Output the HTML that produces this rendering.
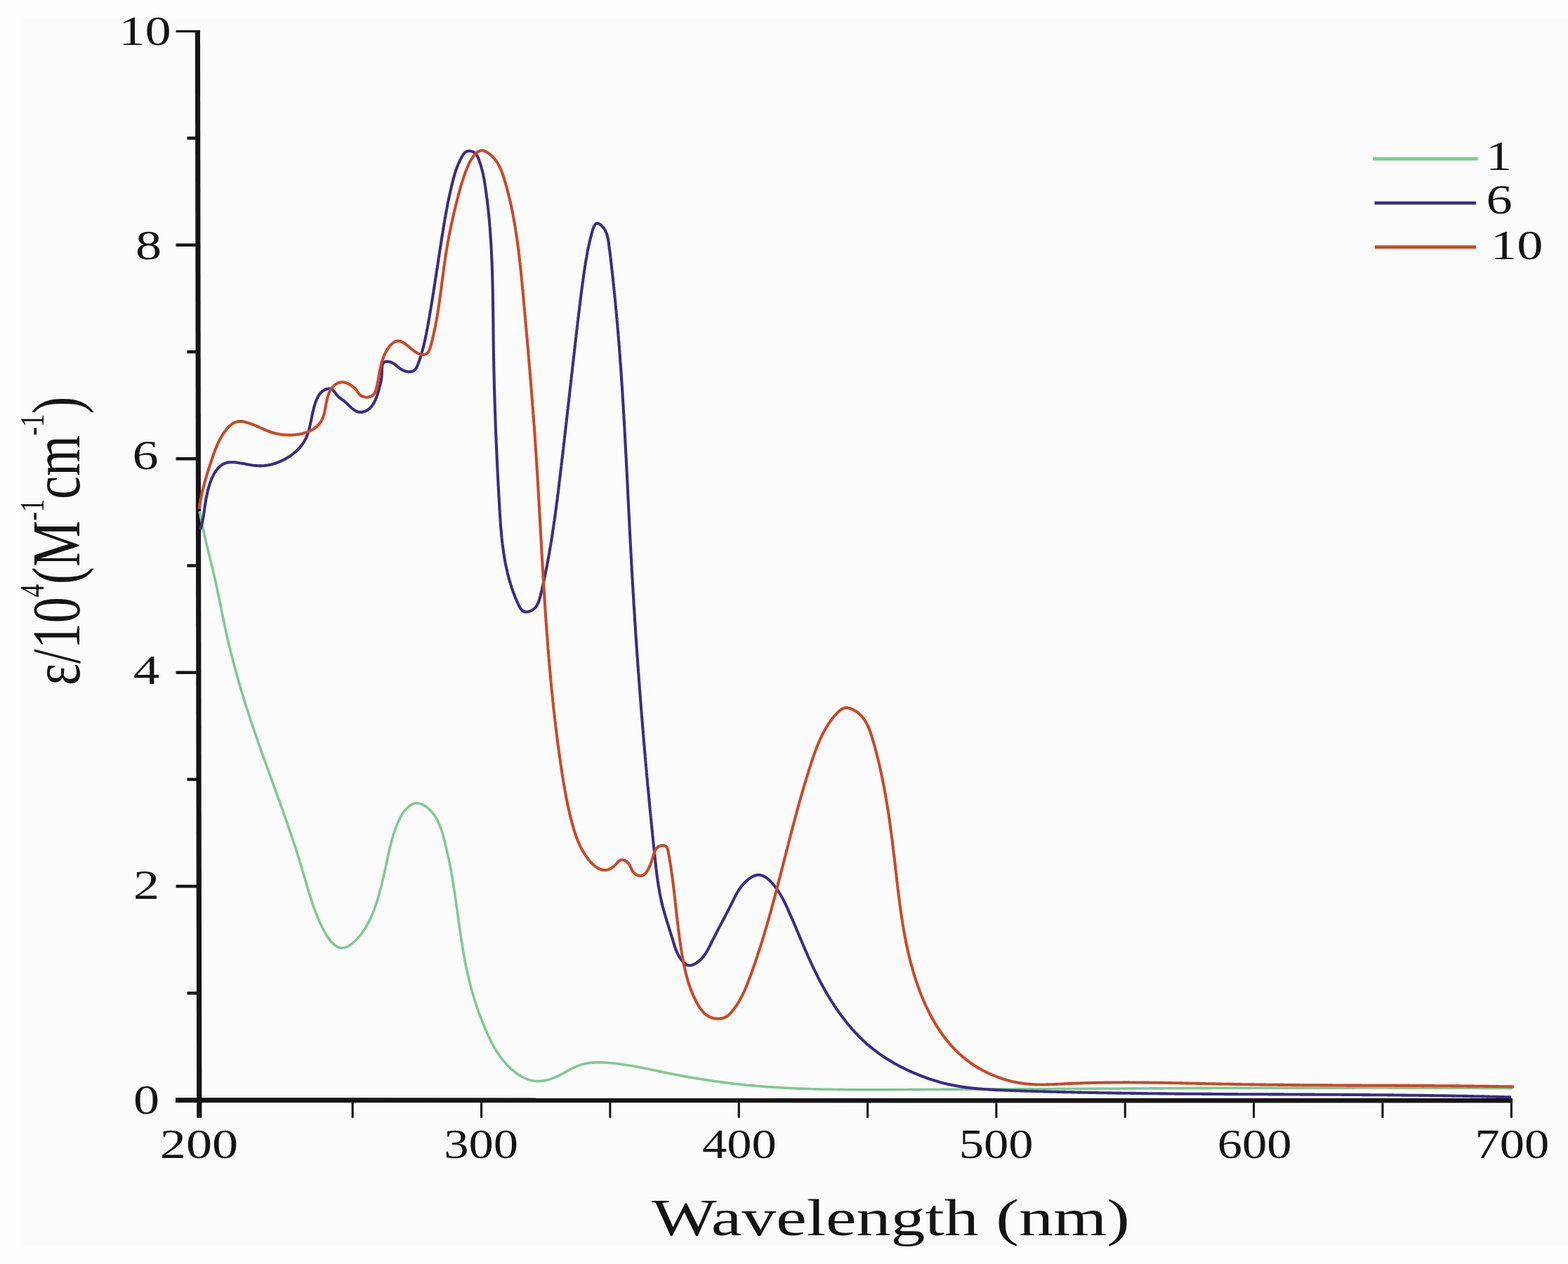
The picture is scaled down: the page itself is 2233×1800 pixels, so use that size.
<!DOCTYPE html>
<html><head><meta charset="utf-8"><title>UV-Vis spectra</title>
<style>
html,body{margin:0;padding:0;background:#fefefe;}
body{width:2233px;height:1800px;overflow:hidden;}
svg{display:block;}
text{font-family:"Liberation Serif","Times New Roman",serif;fill:#141414;}
</style></head><body>
<svg xmlns="http://www.w3.org/2000/svg" width="2233" height="1800" viewBox="0 0 2233 1800">
<rect width="2233" height="1800" fill="#fefefe"/>
<rect x="29" y="24" width="2204" height="1751" fill="#fcfcfc"/>
<polygon points="277.9,43 285,43 287.4,1591.8 280.2,1591.8" fill="#151515"/>
<polygon points="250,1563.3 2154,1563.6 2154,1570.6 250,1570.2" fill="#151515"/>
<rect x="266.5" y="1412.1" width="16.5" height="4.4" fill="#151515"/>
<rect x="250.5" y="1259.9" width="32.5" height="4.4" fill="#151515"/>
<rect x="266.5" y="1107.7" width="16.5" height="4.4" fill="#151515"/>
<rect x="250.5" y="955.5" width="32.5" height="4.4" fill="#151515"/>
<rect x="266.5" y="803.3" width="16.5" height="4.4" fill="#151515"/>
<rect x="250.5" y="651.1" width="32.5" height="4.4" fill="#151515"/>
<rect x="266.5" y="498.9" width="16.5" height="4.4" fill="#151515"/>
<rect x="250.5" y="346.7" width="32.5" height="4.4" fill="#151515"/>
<rect x="266.5" y="194.5" width="16.5" height="4.4" fill="#151515"/>
<rect x="250.5" y="43" width="32.5" height="3.2" fill="#151515"/>
<rect x="500.6" y="1566" width="3.1" height="25.8" fill="#151515"/>
<rect x="684.0" y="1566" width="3.1" height="25.8" fill="#151515"/>
<rect x="867.3" y="1566" width="3.1" height="25.8" fill="#151515"/>
<rect x="1050.7" y="1566" width="3.1" height="25.8" fill="#151515"/>
<rect x="1234.0" y="1566" width="3.1" height="25.8" fill="#151515"/>
<rect x="1417.3" y="1566" width="3.1" height="25.8" fill="#151515"/>
<rect x="1600.7" y="1566" width="3.1" height="25.8" fill="#151515"/>
<rect x="1784.0" y="1566" width="3.1" height="25.8" fill="#151515"/>
<rect x="1967.4" y="1566" width="3.1" height="25.8" fill="#151515"/>
<rect x="2150.8" y="1566" width="3.1" height="25.8" fill="#151515"/>
<path d="M284.3,728.0 L284.6,729.5 L284.8,731.0 L285.1,732.5 L285.4,734.0 L285.6,735.4 L285.9,736.9 L286.2,738.4 L286.5,739.8 L286.8,741.3 L287.1,742.8 L287.4,744.3 L287.7,745.7 L288.0,747.2 L288.3,748.7 L288.6,750.1 L288.9,751.6 L289.2,753.1 L289.5,754.5 L289.8,756.0 L290.2,757.5 L290.5,758.9 L290.8,760.4 L291.1,761.8 L291.5,763.3 L291.8,764.8 L292.2,766.2 L292.5,767.7 L292.8,769.1 L293.2,770.6 L293.5,772.1 L293.9,773.5 L294.2,775.0 L294.6,776.4 L294.9,777.9 L295.3,779.3 L295.6,780.8 L296.0,782.2 L296.3,783.7 L296.7,785.2 L297.0,786.6 L297.4,788.1 L297.7,789.5 L298.1,791.0 L298.4,792.4 L298.8,793.9 L299.2,795.3 L299.5,796.8 L299.9,798.3 L300.2,799.7 L300.6,801.2 L300.9,802.6 L301.3,804.1 L301.6,805.5 L302.0,807.0 L302.3,808.4 L302.7,809.9 L303.0,811.4 L303.4,812.8 L303.7,814.3 L304.1,815.7 L304.4,817.2 L304.8,818.7 L305.1,820.1 L305.4,821.6 L305.8,823.0 L306.1,824.5 L306.4,826.0 L306.8,827.4 L307.1,828.9 L307.4,830.3 L307.7,831.8 L308.0,833.3 L308.4,834.7 L308.7,836.2 L309.0,837.7 L309.3,839.1 L309.6,840.6 L309.9,842.1 L310.2,843.5 L310.5,845.0 L310.8,846.5 L311.2,848.0 L311.5,849.4 L311.8,850.9 L312.1,852.4 L312.4,853.8 L312.7,855.3 L313.0,856.8 L313.3,858.3 L313.6,859.7 L313.9,861.2 L314.2,862.7 L314.5,864.1 L314.8,865.6 L315.0,867.1 L315.3,868.6 L315.6,870.0 L315.9,871.5 L316.2,873.0 L316.5,874.4 L316.8,875.9 L317.1,877.4 L317.4,878.8 L317.7,880.3 L318.1,881.8 L318.4,883.3 L318.7,884.7 L319.0,886.2 L319.3,887.7 L319.6,889.1 L319.9,890.6 L320.2,892.1 L320.5,893.5 L320.8,895.0 L321.2,896.5 L321.5,897.9 L321.8,899.4 L322.1,900.9 L322.5,902.3 L322.8,903.8 L323.1,905.3 L323.4,906.7 L323.8,908.2 L324.1,909.6 L324.4,911.1 L324.8,912.6 L325.1,914.0 L325.5,915.5 L325.8,916.9 L326.2,918.4 L326.5,919.9 L326.9,921.3 L327.2,922.8 L327.6,924.2 L327.9,925.7 L328.3,927.1 L328.7,928.6 L329.0,930.0 L329.4,931.5 L329.8,932.9 L330.1,934.4 L330.5,935.8 L330.9,937.3 L331.2,938.7 L331.6,940.2 L332.0,941.6 L332.4,943.1 L332.8,944.5 L333.1,946.0 L333.5,947.4 L333.9,948.9 L334.3,950.3 L334.7,951.8 L335.1,953.2 L335.5,954.7 L335.9,956.1 L336.3,957.6 L336.7,959.0 L337.1,960.4 L337.5,961.9 L337.9,963.3 L338.3,964.8 L338.7,966.2 L339.1,967.7 L339.5,969.1 L339.9,970.5 L340.3,972.0 L340.8,973.4 L341.2,974.9 L341.6,976.3 L342.0,977.7 L342.4,979.2 L342.9,980.6 L343.3,982.0 L343.7,983.5 L344.2,984.9 L344.6,986.3 L345.0,987.8 L345.5,989.2 L345.9,990.6 L346.3,992.1 L346.8,993.5 L347.2,994.9 L347.6,996.4 L348.1,997.8 L348.5,999.2 L349.0,1000.7 L349.4,1002.1 L349.9,1003.5 L350.3,1005.0 L350.8,1006.4 L351.2,1007.8 L351.7,1009.2 L352.1,1010.7 L352.6,1012.1 L353.1,1013.5 L353.5,1015.0 L354.0,1016.4 L354.5,1017.8 L354.9,1019.2 L355.4,1020.7 L355.9,1022.1 L356.3,1023.5 L356.8,1024.9 L357.3,1026.3 L357.7,1027.8 L358.2,1029.2 L358.7,1030.6 L359.2,1032.0 L359.6,1033.5 L360.1,1034.9 L360.6,1036.3 L361.1,1037.7 L361.6,1039.1 L362.1,1040.6 L362.5,1042.0 L363.0,1043.4 L363.5,1044.8 L364.0,1046.2 L364.5,1047.7 L365.0,1049.1 L365.5,1050.5 L366.0,1051.9 L366.5,1053.3 L366.9,1054.7 L367.4,1056.2 L367.9,1057.6 L368.4,1059.0 L368.9,1060.4 L369.4,1061.8 L369.9,1063.2 L370.4,1064.7 L370.9,1066.1 L371.4,1067.5 L371.9,1068.9 L372.4,1070.3 L372.9,1071.7 L373.4,1073.1 L373.9,1074.6 L374.4,1076.0 L374.9,1077.4 L375.4,1078.8 L376.0,1080.2 L376.5,1081.6 L377.0,1083.0 L377.5,1084.4 L378.0,1085.9 L378.5,1087.3 L379.0,1088.7 L379.5,1090.1 L380.0,1091.5 L380.5,1092.9 L381.0,1094.3 L381.5,1095.7 L382.1,1097.2 L382.6,1098.6 L383.1,1100.0 L383.6,1101.4 L384.1,1102.8 L384.6,1104.2 L385.1,1105.6 L385.6,1107.0 L386.1,1108.5 L386.6,1109.9 L387.2,1111.3 L387.7,1112.7 L388.2,1114.1 L388.7,1115.5 L389.2,1116.9 L389.7,1118.3 L390.2,1119.7 L390.7,1121.2 L391.2,1122.6 L391.8,1124.0 L392.3,1125.4 L392.8,1126.8 L393.3,1128.2 L393.8,1129.6 L394.3,1131.0 L394.8,1132.4 L395.3,1133.9 L395.8,1135.3 L396.3,1136.7 L396.8,1138.1 L397.4,1139.5 L397.9,1140.9 L398.4,1142.3 L398.9,1143.7 L399.4,1145.2 L399.9,1146.6 L400.4,1148.0 L400.9,1149.4 L401.4,1150.8 L401.9,1152.2 L402.4,1153.6 L402.9,1155.0 L403.4,1156.5 L403.9,1157.9 L404.4,1159.3 L404.9,1160.7 L405.4,1162.1 L405.9,1163.5 L406.4,1164.9 L406.9,1166.4 L407.4,1167.8 L407.9,1169.2 L408.4,1170.6 L408.9,1172.0 L409.4,1173.4 L409.8,1174.8 L410.3,1176.3 L410.8,1177.7 L411.3,1179.1 L411.8,1180.5 L412.3,1181.9 L412.8,1183.4 L413.2,1184.8 L413.7,1186.2 L414.2,1187.6 L414.7,1189.0 L415.2,1190.4 L415.6,1191.9 L416.1,1193.3 L416.6,1194.7 L417.1,1196.1 L417.5,1197.5 L418.0,1199.0 L418.5,1200.4 L419.0,1201.8 L419.4,1203.2 L419.9,1204.6 L420.4,1206.1 L420.8,1207.5 L421.3,1208.9 L421.7,1210.3 L422.2,1211.8 L422.7,1213.2 L423.1,1214.6 L423.6,1216.0 L424.0,1217.5 L424.5,1218.9 L424.9,1220.3 L425.4,1221.7 L425.8,1223.2 L426.3,1224.6 L426.7,1226.0 L427.1,1227.5 L427.6,1228.9 L428.0,1230.3 L428.5,1231.7 L428.9,1233.2 L429.3,1234.6 L429.8,1236.0 L430.2,1237.5 L430.6,1238.9 L431.0,1240.3 L431.5,1241.8 L431.9,1243.2 L432.3,1244.6 L432.7,1246.1 L433.1,1247.5 L433.6,1248.9 L434.0,1250.4 L434.4,1251.8 L434.8,1253.2 L435.2,1254.7 L435.6,1256.1 L436.1,1257.6 L436.5,1259.0 L436.9,1260.4 L437.3,1261.9 L437.7,1263.3 L438.1,1264.7 L438.6,1266.2 L439.0,1267.6 L439.4,1269.0 L439.9,1270.5 L440.3,1271.9 L440.7,1273.3 L441.2,1274.7 L441.6,1276.2 L442.1,1277.6 L442.5,1279.0 L443.0,1280.5 L443.4,1281.9 L443.9,1283.3 L444.4,1284.7 L444.8,1286.1 L445.3,1287.6 L445.8,1289.0 L446.3,1290.4 L446.8,1291.8 L447.3,1293.2 L447.8,1294.6 L448.3,1296.0 L448.9,1297.4 L449.4,1298.9 L449.9,1300.3 L450.5,1301.7 L451.1,1303.1 L451.6,1304.5 L452.2,1305.8 L452.8,1307.2 L453.4,1308.6 L454.0,1310.0 L454.6,1311.4 L455.2,1312.8 L455.8,1314.2 L456.5,1315.5 L457.1,1316.9 L457.8,1318.3 L458.5,1319.7 L459.1,1321.0 L459.8,1322.4 L460.5,1323.8 L461.3,1325.1 L462.0,1326.5 L462.7,1327.8 L463.5,1329.2 L464.3,1330.5 L465.0,1331.8 L465.8,1333.1 L466.7,1334.4 L467.5,1335.7 L468.4,1336.9 L469.3,1338.1 L470.2,1339.3 L471.2,1340.5 L472.1,1341.6 L473.1,1342.6 L474.2,1343.6 L475.3,1344.6 L476.4,1345.5 L477.5,1346.3 L478.7,1347.1 L479.9,1347.8 L481.2,1348.5 L482.5,1349.0 L483.8,1349.5 L485.1,1349.8 L486.5,1350.0 L487.9,1350.0 L489.3,1349.8 L490.6,1349.6 L492.0,1349.1 L493.4,1348.6 L494.8,1348.0 L496.1,1347.2 L497.5,1346.4 L498.8,1345.5 L500.1,1344.6 L501.4,1343.6 L502.7,1342.5 L503.9,1341.5 L505.1,1340.4 L506.2,1339.3 L507.3,1338.2 L508.4,1337.1 L509.5,1336.0 L510.5,1334.9 L511.4,1333.7 L512.4,1332.6 L513.3,1331.5 L514.2,1330.3 L515.1,1329.2 L516.0,1328.0 L516.8,1326.8 L517.6,1325.6 L518.5,1324.4 L519.3,1323.1 L520.0,1321.9 L520.8,1320.6 L521.6,1319.4 L522.3,1318.1 L523.0,1316.8 L523.8,1315.5 L524.5,1314.2 L525.2,1312.9 L525.8,1311.5 L526.5,1310.2 L527.1,1308.8 L527.8,1307.5 L528.4,1306.1 L529.0,1304.7 L529.6,1303.4 L530.2,1302.0 L530.8,1300.6 L531.3,1299.2 L531.9,1297.8 L532.4,1296.4 L533.0,1295.0 L533.5,1293.5 L534.0,1292.1 L534.5,1290.7 L535.0,1289.2 L535.5,1287.8 L536.0,1286.4 L536.5,1284.9 L536.9,1283.5 L537.4,1282.1 L537.8,1280.6 L538.3,1279.2 L538.7,1277.7 L539.1,1276.3 L539.5,1274.8 L539.9,1273.4 L540.3,1271.9 L540.7,1270.5 L541.1,1269.0 L541.5,1267.6 L541.9,1266.1 L542.3,1264.7 L542.6,1263.2 L543.0,1261.8 L543.4,1260.3 L543.7,1258.9 L544.1,1257.4 L544.4,1256.0 L544.7,1254.5 L545.1,1253.1 L545.4,1251.6 L545.8,1250.1 L546.1,1248.7 L546.4,1247.2 L546.7,1245.8 L547.1,1244.3 L547.4,1242.9 L547.7,1241.4 L548.0,1239.9 L548.3,1238.5 L548.7,1237.0 L549.0,1235.6 L549.3,1234.1 L549.6,1232.6 L549.9,1231.2 L550.2,1229.7 L550.5,1228.2 L550.9,1226.8 L551.2,1225.3 L551.5,1223.9 L551.8,1222.4 L552.1,1220.9 L552.5,1219.5 L552.8,1218.0 L553.1,1216.5 L553.4,1215.1 L553.8,1213.6 L554.1,1212.1 L554.4,1210.7 L554.8,1209.2 L555.1,1207.7 L555.5,1206.3 L555.9,1204.8 L556.2,1203.3 L556.6,1201.9 L557.0,1200.4 L557.3,1199.0 L557.7,1197.5 L558.1,1196.1 L558.5,1194.6 L559.0,1193.2 L559.4,1191.7 L559.8,1190.3 L560.2,1188.9 L560.7,1187.4 L561.2,1186.0 L561.6,1184.6 L562.1,1183.2 L562.6,1181.8 L563.1,1180.4 L563.6,1179.0 L564.1,1177.6 L564.7,1176.2 L565.2,1174.8 L565.8,1173.4 L566.4,1172.0 L566.9,1170.7 L567.6,1169.3 L568.2,1167.9 L568.8,1166.6 L569.5,1165.3 L570.2,1163.9 L570.9,1162.6 L571.6,1161.3 L572.4,1160.0 L573.2,1158.8 L574.0,1157.5 L574.9,1156.3 L575.9,1155.1 L576.8,1153.9 L577.9,1152.8 L578.9,1151.6 L580.0,1150.5 L581.2,1149.4 L582.4,1148.4 L583.7,1147.4 L585.0,1146.5 L586.4,1145.7 L587.7,1145.0 L589.1,1144.4 L590.5,1144.1 L591.9,1143.8 L593.3,1143.7 L594.7,1143.8 L596.1,1144.0 L597.5,1144.2 L598.9,1144.6 L600.2,1145.1 L601.6,1145.7 L602.9,1146.4 L604.2,1147.1 L605.5,1147.9 L606.7,1148.7 L608.0,1149.7 L609.2,1150.6 L610.3,1151.6 L611.4,1152.6 L612.5,1153.6 L613.5,1154.7 L614.5,1155.8 L615.5,1156.9 L616.4,1158.1 L617.3,1159.2 L618.2,1160.4 L619.0,1161.6 L619.8,1162.9 L620.6,1164.1 L621.4,1165.4 L622.1,1166.7 L622.8,1168.0 L623.5,1169.3 L624.1,1170.7 L624.7,1172.0 L625.3,1173.4 L625.9,1174.8 L626.5,1176.2 L627.0,1177.6 L627.5,1179.0 L628.1,1180.4 L628.6,1181.9 L629.0,1183.3 L629.5,1184.8 L629.9,1186.2 L630.4,1187.7 L630.8,1189.2 L631.2,1190.6 L631.6,1192.1 L632.0,1193.6 L632.4,1195.1 L632.8,1196.5 L633.2,1198.0 L633.6,1199.5 L633.9,1201.0 L634.3,1202.5 L634.7,1203.9 L635.0,1205.4 L635.4,1206.9 L635.7,1208.3 L636.1,1209.8 L636.4,1211.3 L636.7,1212.8 L637.1,1214.2 L637.4,1215.7 L637.7,1217.2 L638.0,1218.6 L638.4,1220.1 L638.7,1221.6 L639.0,1223.0 L639.3,1224.5 L639.6,1226.0 L639.9,1227.4 L640.2,1228.9 L640.5,1230.4 L640.8,1231.8 L641.0,1233.3 L641.3,1234.8 L641.6,1236.2 L641.9,1237.7 L642.1,1239.2 L642.4,1240.6 L642.7,1242.1 L642.9,1243.6 L643.2,1245.0 L643.5,1246.5 L643.7,1248.0 L644.0,1249.4 L644.2,1250.9 L644.5,1252.4 L644.7,1253.8 L645.0,1255.3 L645.2,1256.8 L645.4,1258.3 L645.7,1259.7 L645.9,1261.2 L646.1,1262.7 L646.4,1264.2 L646.6,1265.6 L646.8,1267.1 L647.0,1268.6 L647.3,1270.1 L647.5,1271.5 L647.7,1273.0 L647.9,1274.5 L648.1,1276.0 L648.3,1277.5 L648.6,1278.9 L648.8,1280.4 L649.0,1281.9 L649.2,1283.4 L649.4,1284.9 L649.6,1286.3 L649.8,1287.8 L650.0,1289.3 L650.2,1290.8 L650.4,1292.3 L650.7,1293.7 L650.9,1295.2 L651.1,1296.7 L651.3,1298.2 L651.5,1299.7 L651.7,1301.2 L651.9,1302.6 L652.1,1304.1 L652.3,1305.6 L652.5,1307.1 L652.7,1308.6 L652.9,1310.1 L653.1,1311.5 L653.3,1313.0 L653.5,1314.5 L653.8,1316.0 L654.0,1317.5 L654.2,1319.0 L654.4,1320.4 L654.6,1321.9 L654.8,1323.4 L655.0,1324.9 L655.2,1326.4 L655.5,1327.9 L655.7,1329.3 L655.9,1330.8 L656.1,1332.3 L656.3,1333.8 L656.6,1335.3 L656.8,1336.8 L657.0,1338.2 L657.2,1339.7 L657.5,1341.2 L657.7,1342.7 L657.9,1344.2 L658.2,1345.6 L658.4,1347.1 L658.7,1348.6 L658.9,1350.1 L659.2,1351.6 L659.4,1353.0 L659.7,1354.5 L659.9,1356.0 L660.2,1357.5 L660.4,1359.0 L660.7,1360.4 L661.0,1361.9 L661.2,1363.4 L661.5,1364.9 L661.8,1366.3 L662.1,1367.8 L662.3,1369.3 L662.6,1370.8 L662.9,1372.2 L663.2,1373.7 L663.5,1375.2 L663.8,1376.7 L664.1,1378.1 L664.4,1379.6 L664.7,1381.1 L665.0,1382.5 L665.4,1384.0 L665.7,1385.5 L666.0,1387.0 L666.4,1388.4 L666.7,1389.9 L667.0,1391.4 L667.4,1392.8 L667.7,1394.3 L668.1,1395.8 L668.4,1397.2 L668.8,1398.7 L669.2,1400.1 L669.6,1401.6 L669.9,1403.1 L670.3,1404.5 L670.7,1406.0 L671.1,1407.4 L671.5,1408.9 L671.9,1410.4 L672.3,1411.8 L672.7,1413.3 L673.2,1414.7 L673.6,1416.2 L674.0,1417.6 L674.4,1419.1 L674.9,1420.5 L675.3,1422.0 L675.8,1423.4 L676.2,1424.8 L676.7,1426.3 L677.2,1427.7 L677.6,1429.2 L678.1,1430.6 L678.6,1432.0 L679.1,1433.5 L679.5,1434.9 L680.0,1436.3 L680.5,1437.7 L681.0,1439.2 L681.5,1440.6 L682.0,1442.0 L682.5,1443.4 L683.1,1444.8 L683.6,1446.2 L684.1,1447.6 L684.6,1449.0 L685.2,1450.4 L685.7,1451.8 L686.3,1453.2 L686.8,1454.6 L687.3,1456.0 L687.9,1457.4 L688.5,1458.8 L689.0,1460.1 L689.6,1461.5 L690.2,1462.9 L690.7,1464.3 L691.3,1465.6 L691.9,1467.0 L692.5,1468.3 L693.1,1469.7 L693.6,1471.0 L694.2,1472.4 L694.8,1473.7 L695.5,1475.1 L696.1,1476.4 L696.7,1477.7 L697.3,1479.0 L698.0,1480.4 L698.6,1481.7 L699.3,1483.0 L699.9,1484.3 L700.6,1485.6 L701.3,1486.9 L702.0,1488.2 L702.7,1489.5 L703.4,1490.7 L704.2,1492.0 L704.9,1493.3 L705.7,1494.5 L706.4,1495.8 L707.2,1497.1 L708.0,1498.3 L708.8,1499.5 L709.7,1500.8 L710.5,1502.0 L711.4,1503.2 L712.2,1504.5 L713.1,1505.7 L714.0,1506.9 L715.0,1508.1 L715.9,1509.3 L716.9,1510.4 L717.9,1511.6 L718.9,1512.8 L719.9,1514.0 L720.9,1515.1 L722.0,1516.3 L723.1,1517.4 L724.2,1518.5 L725.3,1519.6 L726.4,1520.7 L727.6,1521.8 L728.8,1522.9 L730.0,1523.9 L731.2,1524.9 L732.4,1525.9 L733.6,1526.9 L734.8,1527.8 L736.1,1528.8 L737.4,1529.7 L738.7,1530.5 L739.9,1531.3 L741.2,1532.1 L742.6,1532.9 L743.9,1533.6 L745.2,1534.3 L746.6,1535.0 L747.9,1535.6 L749.3,1536.2 L750.7,1536.7 L752.0,1537.2 L753.4,1537.7 L754.8,1538.1 L756.2,1538.4 L757.6,1538.7 L759.0,1539.0 L760.5,1539.2 L761.9,1539.4 L763.3,1539.5 L764.7,1539.6 L766.1,1539.6 L767.6,1539.6 L769.0,1539.5 L770.4,1539.4 L771.9,1539.3 L773.3,1539.1 L774.7,1538.9 L776.2,1538.6 L777.6,1538.4 L779.0,1538.0 L780.4,1537.7 L781.9,1537.3 L783.3,1536.9 L784.7,1536.4 L786.1,1535.9 L787.5,1535.4 L788.9,1534.9 L790.3,1534.3 L791.6,1533.7 L793.0,1533.1 L794.4,1532.5 L795.7,1531.8 L797.1,1531.1 L798.4,1530.4 L799.8,1529.7 L801.1,1529.0 L802.5,1528.3 L803.8,1527.5 L805.1,1526.8 L806.5,1526.1 L807.8,1525.3 L809.1,1524.6 L810.5,1523.8 L811.8,1523.1 L813.1,1522.4 L814.5,1521.7 L815.8,1521.0 L817.2,1520.4 L818.5,1519.7 L819.9,1519.1 L821.3,1518.5 L822.7,1517.9 L824.0,1517.4 L825.4,1516.9 L826.9,1516.4 L828.3,1515.9 L829.7,1515.5 L831.1,1515.2 L832.6,1514.8 L834.0,1514.5 L835.5,1514.2 L837.0,1514.0 L838.4,1513.8 L839.9,1513.6 L841.4,1513.4 L842.9,1513.3 L844.4,1513.1 L845.9,1513.1 L847.4,1513.0 L848.9,1512.9 L850.4,1512.9 L852.0,1512.9 L853.5,1512.9 L855.0,1512.9 L856.5,1512.9 L858.0,1513.0 L859.6,1513.1 L861.1,1513.1 L862.6,1513.2 L864.1,1513.3 L865.6,1513.4 L867.1,1513.6 L868.7,1513.7 L870.2,1513.8 L871.7,1514.0 L873.2,1514.1 L874.7,1514.3 L876.2,1514.4 L877.7,1514.6 L879.2,1514.8 L880.7,1515.0 L882.1,1515.1 L883.6,1515.3 L885.1,1515.5 L886.6,1515.7 L888.1,1516.0 L889.6,1516.2 L891.0,1516.4 L892.5,1516.6 L894.0,1516.9 L895.5,1517.1 L896.9,1517.3 L898.4,1517.6 L899.9,1517.8 L901.4,1518.1 L902.8,1518.4 L904.3,1518.6 L905.8,1518.9 L907.2,1519.2 L908.7,1519.4 L910.1,1519.7 L911.6,1520.0 L913.1,1520.3 L914.5,1520.6 L916.0,1520.9 L917.5,1521.2 L918.9,1521.4 L920.4,1521.7 L921.8,1522.0 L923.3,1522.3 L924.7,1522.6 L926.2,1522.9 L927.7,1523.2 L929.1,1523.6 L930.6,1523.9 L932.0,1524.2 L933.5,1524.5 L934.9,1524.8 L936.4,1525.1 L937.9,1525.4 L939.3,1525.7 L940.8,1526.0 L942.2,1526.3 L943.7,1526.6 L945.2,1526.9 L946.6,1527.2 L948.1,1527.5 L949.6,1527.8 L951.0,1528.1 L952.5,1528.4 L953.9,1528.7 L955.4,1529.0 L956.9,1529.3 L958.3,1529.6 L959.8,1529.9 L961.3,1530.2 L962.8,1530.4 L964.2,1530.7 L965.7,1531.0 L967.2,1531.3 L968.6,1531.6 L970.1,1531.8 L971.6,1532.1 L973.1,1532.4 L974.5,1532.7 L976.0,1532.9 L977.5,1533.2 L979.0,1533.5 L980.5,1533.7 L981.9,1534.0 L983.4,1534.2 L984.9,1534.5 L986.4,1534.8 L987.9,1535.0 L989.3,1535.3 L990.8,1535.5 L992.3,1535.8 L993.8,1536.0 L995.3,1536.3 L996.8,1536.5 L998.2,1536.7 L999.7,1537.0 L1001.2,1537.2 L1002.7,1537.4 L1004.2,1537.7 L1005.7,1537.9 L1007.2,1538.1 L1008.7,1538.4 L1010.1,1538.6 L1011.6,1538.8 L1013.1,1539.0 L1014.6,1539.2 L1016.1,1539.5 L1017.6,1539.7 L1019.1,1539.9 L1020.6,1540.1 L1022.1,1540.3 L1023.6,1540.5 L1025.0,1540.7 L1026.5,1540.9 L1028.0,1541.1 L1029.5,1541.3 L1031.0,1541.5 L1032.5,1541.7 L1034.0,1541.9 L1035.5,1542.1 L1037.0,1542.3 L1038.5,1542.4 L1040.0,1542.6 L1041.5,1542.8 L1043.0,1543.0 L1044.4,1543.1 L1045.9,1543.3 L1047.4,1543.5 L1048.9,1543.7 L1050.4,1543.8 L1051.9,1544.0 L1053.4,1544.1 L1054.9,1544.3 L1056.4,1544.5 L1057.9,1544.6 L1059.4,1544.8 L1060.9,1544.9 L1062.4,1545.1 L1063.9,1545.2 L1065.4,1545.4 L1066.9,1545.5 L1068.3,1545.6 L1069.8,1545.8 L1071.3,1545.9 L1072.8,1546.0 L1074.3,1546.2 L1075.8,1546.3 L1077.3,1546.4 L1078.8,1546.6 L1080.3,1546.7 L1081.8,1546.8 L1083.3,1546.9 L1084.8,1547.0 L1086.3,1547.2 L1087.8,1547.3 L1089.3,1547.4 L1090.8,1547.5 L1092.3,1547.6 L1093.8,1547.7 L1095.3,1547.8 L1096.8,1547.9 L1098.2,1548.0 L1099.7,1548.1 L1101.2,1548.2 L1102.7,1548.3 L1104.2,1548.4 L1105.7,1548.5 L1107.2,1548.6 L1108.7,1548.7 L1110.2,1548.8 L1111.7,1548.9 L1113.2,1549.0 L1114.7,1549.0 L1116.2,1549.1 L1117.7,1549.2 L1119.2,1549.3 L1120.7,1549.4 L1122.2,1549.4 L1123.7,1549.5 L1125.2,1549.6 L1126.7,1549.6 L1128.2,1549.7 L1129.7,1549.8 L1131.2,1549.9 L1132.7,1549.9 L1134.2,1550.0 L1135.7,1550.0 L1137.2,1550.1 L1138.7,1550.2 L1140.2,1550.2 L1141.6,1550.3 L1143.1,1550.3 L1144.6,1550.4 L1146.1,1550.4 L1147.6,1550.5 L1149.1,1550.6 L1150.6,1550.6 L1152.1,1550.6 L1153.6,1550.7 L1155.1,1550.7 L1156.6,1550.8 L1158.1,1550.8 L1159.6,1550.9 L1161.1,1550.9 L1162.6,1551.0 L1164.1,1551.0 L1165.6,1551.0 L1167.1,1551.1 L1168.6,1551.1 L1170.1,1551.1 L1171.6,1551.2 L1173.1,1551.2 L1174.6,1551.2 L1176.1,1551.3 L1177.6,1551.3 L1179.1,1551.3 L1180.6,1551.4 L1182.1,1551.4 L1183.6,1551.4 L1185.1,1551.4 L1186.6,1551.5 L1188.1,1551.5 L1189.6,1551.5 L1191.1,1551.5 L1192.6,1551.5 L1194.1,1551.6 L1195.6,1551.6 L1197.1,1551.6 L1198.6,1551.6 L1200.1,1551.6 L1201.6,1551.6 L1203.1,1551.7 L1204.6,1551.7 L1206.1,1551.7 L1207.6,1551.7 L1209.1,1551.7 L1210.6,1551.7 L1212.1,1551.7 L1213.6,1551.7 L1215.1,1551.7 L1216.6,1551.8 L1218.1,1551.8 L1219.6,1551.8 L1221.1,1551.8 L1222.6,1551.8 L1224.1,1551.8 L1225.6,1551.8 L1227.1,1551.8 L1228.6,1551.8 L1230.1,1551.8 L1231.6,1551.8 L1233.1,1551.8 L1234.6,1551.8 L1236.1,1551.8 L1237.6,1551.8 L1239.1,1551.8 L1240.6,1551.8 L1242.1,1551.8 L1243.6,1551.8 L1245.1,1551.8 L1246.6,1551.8 L1248.1,1551.8 L1249.6,1551.8 L1251.1,1551.8 L1252.6,1551.8 L1254.1,1551.8 L1255.6,1551.8 L1257.1,1551.8 L1258.6,1551.8 L1260.1,1551.8 L1261.6,1551.8 L1263.1,1551.8 L1264.6,1551.8 L1266.1,1551.8 L1267.6,1551.8 L1269.1,1551.7 L1270.6,1551.7 L1272.1,1551.7 L1273.6,1551.7 L1275.1,1551.7 L1276.6,1551.7 L1278.1,1551.7 L1279.6,1551.7 L1281.1,1551.7 L1282.6,1551.7 L1284.1,1551.7 L1285.6,1551.7 L1287.1,1551.7 L1288.6,1551.7 L1290.1,1551.7 L1291.6,1551.7 L1293.1,1551.7 L1294.6,1551.6 L1296.1,1551.6 L1297.6,1551.6 L1299.1,1551.6 L1300.6,1551.6 L1302.1,1551.6 L1303.6,1551.6 L1305.1,1551.6 L1306.6,1551.6 L1308.1,1551.6 L1309.6,1551.6 L1311.1,1551.6 L1312.5,1551.6 L1314.0,1551.6 L1315.5,1551.6 L1317.0,1551.6 L1318.5,1551.5 L1320.0,1551.5 L1321.5,1551.5 L1323.0,1551.5 L1324.5,1551.5 L1326.0,1551.5 L1327.5,1551.5 L1329.0,1551.5 L1330.5,1551.5 L1332.0,1551.5 L1333.5,1551.5 L1335.0,1551.5 L1336.5,1551.5 L1338.0,1551.5 L1339.5,1551.5 L1341.0,1551.4 L1342.5,1551.4 L1344.0,1551.4 L1345.5,1551.4 L1347.0,1551.4 L1348.5,1551.4 L1350.0,1551.4 L1351.5,1551.4 L1353.0,1551.4 L1354.5,1551.4 L1356.0,1551.4 L1357.5,1551.4 L1359.0,1551.4 L1360.5,1551.4 L1362.0,1551.4 L1363.5,1551.3 L1365.0,1551.3 L1366.5,1551.3 L1368.0,1551.3 L1369.5,1551.3 L1371.0,1551.3 L1372.5,1551.3 L1374.0,1551.3 L1375.5,1551.3 L1377.0,1551.3 L1378.5,1551.3 L1380.0,1551.3 L1381.5,1551.3 L1383.0,1551.2 L1384.5,1551.2 L1386.0,1551.2 L1387.5,1551.2 L1389.0,1551.2 L1390.5,1551.2 L1392.0,1551.2 L1393.5,1551.2 L1395.0,1551.2 L1396.5,1551.2 L1398.0,1551.2 L1399.5,1551.2 L1401.0,1551.2 L1402.5,1551.2 L1404.0,1551.1 L1405.5,1551.1 L1407.0,1551.1 L1408.5,1551.1 L1410.0,1551.1 L1411.5,1551.1 L1413.0,1551.1 L1414.5,1551.1 L1416.0,1551.1 L1417.5,1551.1 L1419.0,1551.1 L1420.5,1551.1 L1422.0,1551.1 L1423.5,1551.0 L1425.0,1551.0 L1426.5,1551.0 L1428.0,1551.0 L1429.5,1551.0 L1431.0,1551.0 L1432.5,1551.0 L1434.0,1551.0 L1435.5,1551.0 L1437.0,1551.0 L1438.5,1551.0 L1440.0,1551.0 L1441.5,1551.0 L1443.0,1550.9 L1444.5,1550.9 L1446.0,1550.9 L1447.5,1550.9 L1449.0,1550.9 L1450.5,1550.9 L1452.0,1550.9 L1453.5,1550.9 L1455.0,1550.9 L1456.5,1550.9 L1458.0,1550.9 L1459.5,1550.9 L1461.0,1550.9 L1462.5,1550.8 L1464.0,1550.8 L1465.5,1550.8 L1467.0,1550.8 L1468.5,1550.8 L1470.0,1550.8 L1471.5,1550.8 L1473.0,1550.8 L1474.5,1550.8 L1476.0,1550.8 L1477.5,1550.8 L1479.0,1550.8 L1480.5,1550.8 L1482.0,1550.7 L1483.5,1550.7 L1485.0,1550.7 L1486.5,1550.7 L1488.0,1550.7 L1489.5,1550.7 L1491.0,1550.7 L1492.5,1550.7 L1494.0,1550.7 L1495.5,1550.7 L1497.0,1550.7 L1498.5,1550.7 L1500.0,1550.7 L1501.5,1550.6 L1503.0,1550.6 L1504.5,1550.6 L1506.0,1550.6 L1507.5,1550.6 L1509.0,1550.6 L1510.5,1550.6 L1512.0,1550.6 L1513.5,1550.6 L1515.0,1550.6 L1516.5,1550.6 L1518.0,1550.6 L1519.5,1550.5 L1521.0,1550.5 L1522.5,1550.5 L1524.0,1550.5 L1525.5,1550.5 L1527.0,1550.5 L1528.5,1550.5 L1530.0,1550.5 L1531.5,1550.5 L1533.0,1550.5 L1534.5,1550.5 L1536.0,1550.5 L1537.5,1550.5 L1539.0,1550.4 L1540.5,1550.4 L1542.0,1550.4 L1543.5,1550.4 L1545.0,1550.4 L1546.5,1550.4 L1548.0,1550.4 L1549.5,1550.4 L1551.0,1550.4 L1552.5,1550.4 L1554.0,1550.4 L1555.5,1550.4 L1557.0,1550.4 L1558.5,1550.3 L1560.0,1550.3 L1561.5,1550.3 L1563.0,1550.3 L1564.5,1550.3 L1566.0,1550.3 L1567.5,1550.3 L1569.0,1550.3 L1570.5,1550.3 L1572.0,1550.3 L1573.5,1550.3 L1575.0,1550.3 L1576.5,1550.3 L1578.0,1550.2 L1579.5,1550.2 L1581.0,1550.2 L1582.5,1550.2 L1584.0,1550.2 L1585.5,1550.2 L1587.0,1550.2 L1588.5,1550.2 L1590.0,1550.2 L1591.5,1550.2 L1593.0,1550.2 L1594.5,1550.2 L1596.0,1550.2 L1597.5,1550.1 L1599.0,1550.1 L1600.5,1550.1 L1602.0,1550.1 L1603.5,1550.1 L1605.0,1550.1 L1606.5,1550.1 L1608.0,1550.1 L1609.5,1550.1 L1611.0,1550.1 L1612.5,1550.1 L1614.0,1550.1 L1615.5,1550.1 L1617.0,1550.0 L1618.5,1550.0 L1620.0,1550.0 L1621.5,1550.0 L1623.0,1550.0 L1624.5,1550.0 L1626.0,1550.0 L1627.5,1550.0 L1629.0,1550.0 L1630.5,1550.0 L1632.0,1550.0 L1633.5,1550.0 L1635.0,1550.0 L1636.5,1550.0 L1638.0,1549.9 L1639.5,1549.9 L1641.0,1549.9 L1642.5,1549.9 L1644.0,1549.9 L1645.5,1549.9 L1647.0,1549.9 L1648.5,1549.9 L1650.0,1549.9 L1651.5,1549.9 L1653.0,1549.9 L1654.5,1549.9 L1656.0,1549.9 L1657.5,1549.9 L1659.0,1549.8 L1660.5,1549.8 L1662.0,1549.8 L1663.5,1549.8 L1665.0,1549.8 L1666.5,1549.8 L1668.0,1549.8 L1669.5,1549.8 L1671.0,1549.8 L1672.5,1549.8 L1674.0,1549.8 L1675.5,1549.8 L1677.0,1549.8 L1678.5,1549.8 L1680.0,1549.7 L1681.5,1549.7 L1683.0,1549.7 L1684.5,1549.7 L1686.0,1549.7 L1687.5,1549.7 L1689.0,1549.7 L1690.5,1549.7 L1692.0,1549.7 L1693.5,1549.7 L1695.0,1549.7 L1696.5,1549.7 L1698.0,1549.7 L1699.5,1549.7 L1701.0,1549.7 L1702.5,1549.6 L1704.0,1549.6 L1705.5,1549.6 L1707.0,1549.6 L1708.5,1549.6 L1710.0,1549.6 L1711.5,1549.6 L1713.0,1549.6 L1714.5,1549.6 L1716.0,1549.6 L1717.5,1549.6 L1719.0,1549.6 L1720.5,1549.6 L1722.0,1549.6 L1723.5,1549.6 L1725.0,1549.6 L1726.5,1549.5 L1728.0,1549.5 L1729.5,1549.5 L1731.0,1549.5 L1732.5,1549.5 L1734.0,1549.5 L1735.5,1549.5 L1737.0,1549.5 L1738.5,1549.5 L1740.0,1549.5 L1741.5,1549.5 L1743.0,1549.5 L1744.5,1549.5 L1746.0,1549.5 L1747.5,1549.5 L1749.0,1549.5 L1750.5,1549.5 L1752.0,1549.5 L1753.5,1549.4 L1755.0,1549.4 L1756.5,1549.4 L1758.0,1549.4 L1759.5,1549.4 L1761.0,1549.4 L1762.5,1549.4 L1764.0,1549.4 L1765.5,1549.4 L1767.0,1549.4 L1768.5,1549.4 L1770.0,1549.4 L1771.5,1549.4 L1773.0,1549.4 L1774.5,1549.4 L1776.0,1549.4 L1777.5,1549.4 L1779.0,1549.4 L1780.5,1549.4 L1782.0,1549.3 L1783.5,1549.3 L1785.0,1549.3 L1786.5,1549.3 L1788.0,1549.3 L1789.5,1549.3 L1791.0,1549.3 L1792.5,1549.3 L1794.0,1549.3 L1795.5,1549.3 L1797.0,1549.3 L1798.5,1549.3 L1800.0,1549.3 L1801.5,1549.3 L1803.0,1549.3 L1804.5,1549.3 L1806.0,1549.3 L1807.5,1549.3 L1809.0,1549.3 L1810.5,1549.3 L1812.0,1549.3 L1813.5,1549.3 L1815.0,1549.2 L1816.5,1549.2 L1818.0,1549.2 L1819.5,1549.2 L1821.0,1549.2 L1822.5,1549.2 L1824.0,1549.2 L1825.5,1549.2 L1827.0,1549.2 L1828.5,1549.2 L1830.0,1549.2 L1831.5,1549.2 L1833.0,1549.2 L1834.5,1549.2 L1836.0,1549.2 L1837.5,1549.2 L1839.0,1549.2 L1840.5,1549.2 L1842.0,1549.2 L1843.5,1549.2 L1845.0,1549.2 L1846.5,1549.2 L1848.0,1549.2 L1849.5,1549.2 L1851.0,1549.2 L1852.5,1549.2 L1854.0,1549.2 L1855.5,1549.1 L1857.0,1549.1 L1858.5,1549.1 L1860.0,1549.1 L1861.5,1549.1 L1863.0,1549.1 L1864.5,1549.1 L1866.0,1549.1 L1867.5,1549.1 L1869.0,1549.1 L1870.5,1549.1 L1872.0,1549.1 L1873.5,1549.1 L1875.0,1549.1 L1876.5,1549.1 L1878.0,1549.1 L1879.5,1549.1 L1881.0,1549.1 L1882.5,1549.1 L1884.0,1549.1 L1885.5,1549.1 L1887.0,1549.1 L1888.5,1549.1 L1890.0,1549.1 L1891.5,1549.1 L1893.0,1549.1 L1894.5,1549.1 L1896.0,1549.1 L1897.5,1549.1 L1899.0,1549.1 L1900.5,1549.1 L1902.0,1549.1 L1903.5,1549.1 L1905.0,1549.1 L1906.5,1549.1 L1908.0,1549.1 L1909.5,1549.1 L1911.0,1549.1 L1912.5,1549.1 L1914.0,1549.1 L1915.5,1549.1 L1917.0,1549.1 L1918.5,1549.1 L1920.0,1549.1 L1921.5,1549.1 L1923.0,1549.1 L1924.5,1549.1 L1926.0,1549.1 L1927.5,1549.1 L1929.0,1549.1 L1930.5,1549.0 L1932.0,1549.0 L1933.5,1549.0 L1935.0,1549.0 L1936.5,1549.0 L1938.0,1549.0 L1939.5,1549.0 L1941.0,1549.0 L1942.5,1549.0 L1944.0,1549.0 L1945.5,1549.0 L1947.0,1549.0 L1948.5,1549.0 L1950.0,1549.0 L1951.5,1549.0 L1953.0,1549.0 L1954.5,1549.0 L1956.0,1549.0 L1957.5,1549.0 L1959.0,1549.0 L1960.5,1549.0 L1962.0,1549.0 L1963.5,1549.0 L1965.0,1549.0 L1966.5,1549.0 L1968.0,1549.0 L1969.5,1549.0 L1971.0,1549.0 L1972.5,1549.0 L1974.0,1549.0 L1975.5,1549.0 L1977.0,1549.1 L1978.5,1549.1 L1980.0,1549.1 L1981.5,1549.1 L1983.0,1549.1 L1984.5,1549.1 L1986.0,1549.1 L1987.5,1549.1 L1989.0,1549.1 L1990.5,1549.1 L1992.0,1549.1 L1993.5,1549.1 L1995.0,1549.1 L1996.5,1549.1 L1998.0,1549.1 L1999.5,1549.1 L2001.0,1549.1 L2002.5,1549.1 L2004.0,1549.1 L2005.5,1549.1 L2007.0,1549.1 L2008.5,1549.1 L2010.0,1549.1 L2011.5,1549.1 L2013.0,1549.1 L2014.5,1549.1 L2016.0,1549.1 L2017.5,1549.1 L2019.0,1549.1 L2020.5,1549.1 L2022.0,1549.1 L2023.5,1549.1 L2025.0,1549.1 L2026.5,1549.1 L2028.0,1549.1 L2029.5,1549.1 L2031.0,1549.1 L2032.5,1549.1 L2034.0,1549.1 L2035.5,1549.1 L2037.0,1549.1 L2038.5,1549.1 L2040.0,1549.1 L2041.5,1549.1 L2043.0,1549.1 L2044.5,1549.1 L2046.0,1549.2 L2047.5,1549.2 L2049.0,1549.2 L2050.5,1549.2 L2052.0,1549.2 L2053.5,1549.2 L2055.0,1549.2 L2056.5,1549.2 L2058.0,1549.2 L2059.5,1549.2 L2061.0,1549.2 L2062.5,1549.2 L2064.0,1549.2 L2065.5,1549.2 L2067.0,1549.2 L2068.5,1549.2 L2070.0,1549.2 L2071.5,1549.2 L2073.0,1549.2 L2074.5,1549.2 L2076.0,1549.2 L2077.5,1549.2 L2079.0,1549.2 L2080.5,1549.3 L2082.0,1549.3 L2083.5,1549.3 L2085.0,1549.3 L2086.5,1549.3 L2088.0,1549.3 L2089.5,1549.3 L2091.0,1549.3 L2092.5,1549.3 L2094.0,1549.3 L2095.5,1549.3 L2097.0,1549.3 L2098.5,1549.3 L2100.0,1549.3 L2101.5,1549.3 L2103.0,1549.3 L2104.5,1549.3 L2106.0,1549.3 L2107.5,1549.4 L2109.0,1549.4 L2110.5,1549.4 L2112.0,1549.4 L2113.5,1549.4 L2115.0,1549.4 L2116.5,1549.4 L2118.0,1549.4 L2119.5,1549.4 L2121.0,1549.4 L2122.5,1549.4 L2124.0,1549.4 L2125.5,1549.4 L2127.0,1549.4 L2128.5,1549.5 L2130.0,1549.5 L2131.5,1549.5 L2133.0,1549.5 L2134.5,1549.5 L2136.0,1549.5 L2137.5,1549.5 L2139.0,1549.5 L2140.5,1549.5 L2142.0,1549.5 L2143.5,1549.5 L2145.0,1549.5 L2146.5,1549.5 L2148.0,1549.6 L2149.5,1549.6 L2151.0,1549.6 L2152.5,1549.6 L2154.0,1549.6" fill="none" stroke="#7dca8f" stroke-width="3.6" stroke-linejoin="round" stroke-linecap="butt"/>
<path d="M285.4,754.1 L285.8,752.6 L286.3,751.0 L286.7,749.5 L287.1,747.9 L287.4,746.4 L287.8,744.9 L288.1,743.4 L288.4,741.9 L288.7,740.5 L289.0,739.0 L289.3,737.6 L289.5,736.1 L289.8,734.7 L290.0,733.2 L290.2,731.8 L290.4,730.4 L290.7,729.0 L290.9,727.6 L291.1,726.2 L291.3,724.7 L291.5,723.3 L291.7,721.9 L291.9,720.5 L292.1,719.1 L292.3,717.7 L292.5,716.3 L292.7,714.8 L293.0,713.4 L293.2,712.0 L293.4,710.5 L293.7,709.1 L294.0,707.6 L294.3,706.1 L294.6,704.7 L294.9,703.2 L295.2,701.7 L295.6,700.2 L295.9,698.7 L296.3,697.1 L296.7,695.6 L297.2,694.0 L297.6,692.5 L298.1,690.9 L298.6,689.4 L299.1,687.8 L299.7,686.3 L300.3,684.8 L300.9,683.3 L301.5,681.8 L302.1,680.3 L302.8,678.8 L303.5,677.4 L304.2,676.0 L305.0,674.6 L305.8,673.3 L306.6,672.0 L307.4,670.8 L308.3,669.6 L309.1,668.4 L310.1,667.3 L311.0,666.2 L312.0,665.2 L313.0,664.3 L314.1,663.4 L315.1,662.6 L316.2,661.8 L317.4,661.1 L318.5,660.5 L319.7,660.0 L321.0,659.5 L322.2,659.2 L323.5,658.8 L324.8,658.6 L326.2,658.4 L327.6,658.3 L329.0,658.2 L330.4,658.2 L331.8,658.2 L333.3,658.3 L334.8,658.4 L336.3,658.6 L337.8,658.8 L339.3,659.0 L340.8,659.2 L342.4,659.5 L343.9,659.7 L345.5,660.0 L347.1,660.3 L348.7,660.6 L350.2,660.9 L351.8,661.2 L353.4,661.5 L355.0,661.8 L356.6,662.1 L358.1,662.3 L359.7,662.6 L361.3,662.8 L362.8,663.0 L364.4,663.1 L365.9,663.2 L367.4,663.3 L369.0,663.4 L370.5,663.4 L372.0,663.4 L373.4,663.3 L374.9,663.2 L376.4,663.1 L377.9,662.9 L379.3,662.7 L380.8,662.5 L382.2,662.3 L383.6,662.0 L385.1,661.7 L386.5,661.4 L387.9,661.0 L389.3,660.6 L390.7,660.2 L392.1,659.7 L393.5,659.3 L394.9,658.7 L396.3,658.2 L397.7,657.7 L399.0,657.1 L400.4,656.5 L401.8,655.8 L403.1,655.2 L404.5,654.5 L405.8,653.8 L407.2,653.1 L408.5,652.3 L409.8,651.5 L411.1,650.7 L412.4,649.9 L413.6,649.0 L414.9,648.2 L416.1,647.3 L417.3,646.3 L418.5,645.4 L419.7,644.4 L420.8,643.5 L421.9,642.4 L423.0,641.4 L424.1,640.4 L425.1,639.3 L426.2,638.2 L427.1,637.1 L428.1,636.0 L429.0,634.8 L429.9,633.6 L430.8,632.4 L431.6,631.2 L432.4,630.0 L433.2,628.7 L433.9,627.5 L434.6,626.2 L435.3,624.9 L435.9,623.6 L436.5,622.2 L437.1,620.9 L437.6,619.5 L438.1,618.1 L438.6,616.7 L439.0,615.3 L439.5,613.9 L439.9,612.5 L440.3,611.0 L440.6,609.6 L441.0,608.1 L441.3,606.6 L441.7,605.2 L442.0,603.7 L442.3,602.2 L442.6,600.7 L443.0,599.2 L443.3,597.7 L443.6,596.2 L443.9,594.7 L444.2,593.2 L444.5,591.7 L444.8,590.2 L445.1,588.7 L445.4,587.1 L445.8,585.6 L446.1,584.1 L446.5,582.6 L446.9,581.1 L447.3,579.6 L447.7,578.2 L448.2,576.7 L448.6,575.2 L449.1,573.7 L449.6,572.3 L450.2,570.8 L450.8,569.4 L451.4,568.0 L452.0,566.6 L452.7,565.3 L453.4,564.0 L454.2,562.7 L455.0,561.5 L455.9,560.4 L456.9,559.3 L457.9,558.3 L458.9,557.3 L460.1,556.5 L461.3,555.7 L462.5,555.1 L463.9,554.5 L465.3,554.0 L466.8,553.7 L468.3,553.5 L469.8,553.6 L471.2,553.9 L472.5,554.5 L473.7,555.3 L474.8,556.3 L475.9,557.5 L476.9,558.8 L477.9,560.1 L478.9,561.5 L479.9,562.7 L481.0,563.9 L482.0,565.0 L483.1,565.9 L484.2,566.8 L485.4,567.7 L486.5,568.5 L487.6,569.3 L488.8,570.2 L490.0,571.1 L491.1,572.0 L492.3,573.0 L493.4,574.1 L494.5,575.2 L495.7,576.3 L496.9,577.4 L498.0,578.5 L499.2,579.6 L500.4,580.7 L501.6,581.7 L502.8,582.7 L504.0,583.6 L505.3,584.4 L506.6,585.2 L507.9,585.8 L509.3,586.3 L510.7,586.7 L512.1,586.9 L513.6,586.9 L515.1,586.9 L516.5,586.7 L518.0,586.3 L519.4,585.9 L520.8,585.3 L522.1,584.7 L523.3,584.0 L524.5,583.2 L525.6,582.3 L526.7,581.4 L527.7,580.3 L528.7,579.3 L529.6,578.1 L530.5,576.9 L531.3,575.7 L532.1,574.4 L532.9,573.0 L533.6,571.7 L534.2,570.3 L534.9,568.8 L535.5,567.4 L536.1,565.9 L536.6,564.4 L537.1,562.9 L537.6,561.4 L538.1,559.9 L538.5,558.4 L539.0,556.9 L539.4,555.4 L539.8,554.0 L540.2,552.6 L540.5,551.1 L540.9,549.8 L541.3,548.4 L541.6,547.0 L541.9,545.7 L542.2,544.3 L542.5,543.0 L542.7,541.6 L543.0,540.2 L543.2,538.7 L543.4,537.3 L543.5,535.8 L543.7,534.2 L543.8,532.6 L543.8,531.0 L543.9,529.3 L543.9,527.5 L543.9,525.7 L544.0,524.0 L544.1,522.3 L544.3,520.7 L544.7,519.2 L545.3,517.9 L546.0,516.8 L547.0,515.9 L548.2,515.3 L549.6,515.0 L551.2,514.9 L552.8,515.0 L554.5,515.2 L556.0,515.6 L557.5,516.1 L558.9,516.8 L560.2,517.5 L561.5,518.3 L562.7,519.1 L563.8,520.0 L565.0,520.9 L566.1,521.9 L567.2,522.8 L568.4,523.8 L569.6,524.7 L570.8,525.5 L572.1,526.3 L573.4,527.1 L574.9,527.7 L576.3,528.3 L577.9,528.8 L579.4,529.1 L581.0,529.4 L582.6,529.5 L584.1,529.4 L585.6,529.3 L587.0,528.9 L588.3,528.5 L589.5,527.8 L590.6,527.0 L591.5,526.0 L592.3,524.9 L593.1,523.6 L593.8,522.3 L594.4,520.9 L595.0,519.4 L595.5,518.0 L596.1,516.5 L596.6,515.1 L597.1,513.6 L597.6,512.1 L598.1,510.7 L598.6,509.2 L599.0,507.8 L599.5,506.3 L599.9,504.8 L600.4,503.4 L600.8,501.9 L601.2,500.5 L601.6,499.0 L602.0,497.5 L602.4,496.1 L602.8,494.6 L603.1,493.2 L603.5,491.7 L603.8,490.2 L604.2,488.8 L604.5,487.3 L604.9,485.8 L605.2,484.4 L605.5,482.9 L605.8,481.5 L606.1,480.0 L606.4,478.5 L606.7,477.1 L607.0,475.6 L607.3,474.1 L607.6,472.7 L607.9,471.2 L608.2,469.7 L608.4,468.3 L608.7,466.8 L609.0,465.3 L609.2,463.9 L609.5,462.4 L609.8,460.9 L610.0,459.4 L610.3,458.0 L610.6,456.5 L610.8,455.0 L611.1,453.6 L611.3,452.1 L611.6,450.6 L611.8,449.1 L612.1,447.7 L612.3,446.2 L612.6,444.7 L612.8,443.2 L613.1,441.8 L613.3,440.3 L613.6,438.8 L613.8,437.3 L614.1,435.9 L614.3,434.4 L614.6,432.9 L614.8,431.4 L615.0,430.0 L615.3,428.5 L615.5,427.0 L615.8,425.5 L616.0,424.0 L616.2,422.6 L616.5,421.1 L616.7,419.6 L616.9,418.1 L617.2,416.6 L617.4,415.2 L617.6,413.7 L617.9,412.2 L618.1,410.7 L618.3,409.2 L618.6,407.8 L618.8,406.3 L619.0,404.8 L619.3,403.3 L619.5,401.8 L619.7,400.3 L619.9,398.9 L620.2,397.4 L620.4,395.9 L620.6,394.4 L620.9,392.9 L621.1,391.4 L621.3,390.0 L621.5,388.5 L621.8,387.0 L622.0,385.5 L622.2,384.0 L622.5,382.5 L622.7,381.1 L622.9,379.6 L623.1,378.1 L623.4,376.6 L623.6,375.1 L623.8,373.6 L624.0,372.1 L624.3,370.7 L624.5,369.2 L624.7,367.7 L625.0,366.2 L625.2,364.7 L625.4,363.2 L625.6,361.8 L625.9,360.3 L626.1,358.8 L626.3,357.3 L626.5,355.8 L626.8,354.3 L627.0,352.8 L627.2,351.4 L627.5,349.9 L627.7,348.4 L627.9,346.9 L628.2,345.4 L628.4,343.9 L628.6,342.5 L628.9,341.0 L629.1,339.5 L629.3,338.0 L629.6,336.5 L629.8,335.0 L630.0,333.6 L630.3,332.1 L630.5,330.6 L630.8,329.1 L631.0,327.6 L631.2,326.1 L631.5,324.7 L631.7,323.2 L632.0,321.7 L632.2,320.2 L632.5,318.7 L632.7,317.3 L633.0,315.8 L633.2,314.3 L633.5,312.8 L633.7,311.3 L634.0,309.9 L634.3,308.4 L634.5,306.9 L634.8,305.4 L635.0,304.0 L635.3,302.5 L635.6,301.0 L635.9,299.5 L636.1,298.1 L636.4,296.6 L636.7,295.1 L637.0,293.7 L637.2,292.2 L637.5,290.7 L637.8,289.2 L638.1,287.8 L638.4,286.3 L638.7,284.8 L639.0,283.4 L639.3,281.9 L639.6,280.4 L639.9,279.0 L640.3,277.5 L640.6,276.1 L640.9,274.6 L641.2,273.1 L641.5,271.7 L641.9,270.2 L642.2,268.8 L642.6,267.3 L642.9,265.9 L643.3,264.4 L643.6,263.0 L644.0,261.5 L644.3,260.1 L644.7,258.6 L645.1,257.2 L645.4,255.7 L645.8,254.3 L646.2,252.8 L646.6,251.4 L647.0,250.0 L647.4,248.5 L647.8,247.1 L648.3,245.7 L648.7,244.2 L649.2,242.8 L649.7,241.4 L650.2,240.0 L650.7,238.5 L651.3,237.1 L651.8,235.7 L652.4,234.3 L653.0,232.9 L653.6,231.5 L654.2,230.1 L654.9,228.7 L655.6,227.4 L656.3,226.0 L657.1,224.6 L657.8,223.2 L658.6,221.9 L659.5,220.6 L660.4,219.3 L661.3,218.2 L662.4,217.1 L663.5,216.3 L664.8,215.7 L666.1,215.2 L667.5,215.0 L669.0,215.0 L670.5,215.2 L671.9,215.6 L673.4,216.1 L674.7,216.8 L675.9,217.6 L677.0,218.6 L678.0,219.7 L678.9,220.9 L679.7,222.2 L680.4,223.5 L681.0,224.9 L681.6,226.4 L682.1,227.8 L682.6,229.3 L683.1,230.7 L683.6,232.2 L684.1,233.7 L684.6,235.1 L685.0,236.6 L685.4,238.1 L685.8,239.5 L686.2,241.0 L686.6,242.5 L687.0,243.9 L687.3,245.4 L687.7,246.9 L688.0,248.3 L688.3,249.8 L688.6,251.3 L688.9,252.7 L689.2,254.2 L689.5,255.7 L689.7,257.2 L690.0,258.7 L690.2,260.1 L690.5,261.6 L690.7,263.1 L690.9,264.6 L691.2,266.0 L691.4,267.5 L691.6,269.0 L691.8,270.5 L692.0,272.0 L692.2,273.4 L692.4,274.9 L692.6,276.4 L692.8,277.9 L693.0,279.4 L693.2,280.9 L693.4,282.3 L693.6,283.8 L693.8,285.3 L694.0,286.8 L694.1,288.3 L694.3,289.8 L694.5,291.3 L694.7,292.7 L694.8,294.2 L695.0,295.7 L695.2,297.2 L695.3,298.7 L695.5,300.2 L695.6,301.7 L695.8,303.1 L695.9,304.6 L696.1,306.1 L696.2,307.6 L696.4,309.1 L696.5,310.6 L696.6,312.1 L696.8,313.6 L696.9,315.1 L697.0,316.6 L697.2,318.0 L697.3,319.5 L697.4,321.0 L697.5,322.5 L697.7,324.0 L697.8,325.5 L697.9,327.0 L698.0,328.5 L698.1,330.0 L698.2,331.5 L698.3,333.0 L698.4,334.5 L698.5,336.0 L698.6,337.5 L698.7,339.0 L698.8,340.4 L698.9,341.9 L699.0,343.4 L699.1,344.9 L699.2,346.4 L699.3,347.9 L699.4,349.4 L699.5,350.9 L699.5,352.4 L699.6,353.9 L699.7,355.4 L699.8,356.9 L699.8,358.4 L699.9,359.9 L700.0,361.4 L700.1,362.9 L700.1,364.4 L700.2,365.9 L700.3,367.4 L700.3,368.9 L700.4,370.4 L700.5,371.9 L700.5,373.4 L700.6,374.9 L700.6,376.4 L700.7,377.9 L700.7,379.4 L700.8,380.9 L700.8,382.4 L700.9,383.9 L700.9,385.4 L701.0,386.9 L701.0,388.4 L701.1,389.9 L701.1,391.4 L701.2,392.9 L701.2,394.4 L701.3,395.9 L701.3,397.4 L701.3,398.9 L701.4,400.4 L701.4,401.9 L701.5,403.4 L701.5,404.9 L701.5,406.4 L701.6,407.9 L701.6,409.4 L701.6,410.9 L701.7,412.4 L701.7,413.9 L701.7,415.4 L701.7,416.9 L701.8,418.4 L701.8,419.9 L701.8,421.4 L701.9,422.9 L701.9,424.4 L701.9,425.9 L701.9,427.4 L701.9,428.9 L702.0,430.4 L702.0,431.9 L702.0,433.4 L702.0,434.9 L702.1,436.4 L702.1,437.9 L702.1,439.4 L702.1,440.9 L702.1,442.5 L702.2,444.0 L702.2,445.5 L702.2,447.0 L702.2,448.5 L702.2,450.0 L702.3,451.5 L702.3,453.0 L702.3,454.5 L702.3,456.0 L702.3,457.5 L702.3,459.0 L702.4,460.5 L702.4,462.0 L702.4,463.5 L702.4,465.0 L702.4,466.5 L702.4,468.0 L702.5,469.5 L702.5,471.0 L702.5,472.5 L702.5,474.0 L702.5,475.5 L702.6,477.0 L702.6,478.5 L702.6,480.0 L702.6,481.5 L702.6,483.0 L702.6,484.5 L702.7,486.0 L702.7,487.5 L702.7,489.0 L702.7,490.5 L702.7,492.0 L702.8,493.5 L702.8,495.0 L702.8,496.5 L702.8,498.0 L702.9,499.5 L702.9,501.0 L702.9,502.5 L702.9,504.0 L703.0,505.5 L703.0,507.0 L703.0,508.5 L703.0,510.0 L703.1,511.5 L703.1,513.0 L703.1,514.5 L703.2,516.0 L703.2,517.5 L703.2,519.0 L703.2,520.5 L703.3,522.0 L703.3,523.5 L703.3,525.0 L703.4,526.5 L703.4,528.0 L703.4,529.5 L703.5,531.0 L703.5,532.5 L703.5,534.0 L703.6,535.5 L703.6,537.0 L703.6,538.5 L703.7,540.0 L703.7,541.5 L703.8,543.0 L703.8,544.5 L703.8,546.0 L703.9,547.5 L703.9,549.0 L703.9,550.5 L704.0,552.0 L704.0,553.5 L704.1,555.0 L704.1,556.5 L704.2,557.9 L704.2,559.4 L704.2,560.9 L704.3,562.4 L704.3,563.9 L704.4,565.4 L704.4,566.9 L704.5,568.4 L704.5,569.9 L704.6,571.4 L704.6,572.9 L704.6,574.4 L704.7,575.9 L704.7,577.4 L704.8,578.9 L704.8,580.4 L704.9,581.9 L704.9,583.4 L705.0,584.9 L705.0,586.4 L705.1,587.9 L705.1,589.4 L705.2,590.9 L705.2,592.4 L705.3,593.9 L705.3,595.4 L705.4,596.9 L705.5,598.4 L705.5,599.9 L705.6,601.3 L705.6,602.8 L705.7,604.3 L705.7,605.8 L705.8,607.3 L705.8,608.8 L705.9,610.3 L706.0,611.8 L706.0,613.3 L706.1,614.8 L706.1,616.3 L706.2,617.8 L706.3,619.3 L706.3,620.8 L706.4,622.3 L706.4,623.8 L706.5,625.3 L706.6,626.8 L706.6,628.3 L706.7,629.8 L706.7,631.3 L706.8,632.8 L706.9,634.3 L706.9,635.8 L707.0,637.3 L707.1,638.8 L707.1,640.3 L707.2,641.8 L707.3,643.3 L707.3,644.8 L707.4,646.3 L707.5,647.8 L707.5,649.2 L707.6,650.7 L707.7,652.2 L707.7,653.7 L707.8,655.2 L707.9,656.7 L708.0,658.2 L708.0,659.7 L708.1,661.2 L708.2,662.7 L708.2,664.2 L708.3,665.7 L708.4,667.2 L708.5,668.7 L708.5,670.2 L708.6,671.7 L708.7,673.2 L708.8,674.7 L708.8,676.2 L708.9,677.7 L709.0,679.2 L709.1,680.7 L709.1,682.2 L709.2,683.7 L709.3,685.2 L709.4,686.7 L709.4,688.2 L709.5,689.7 L709.6,691.2 L709.7,692.7 L709.8,694.2 L709.8,695.7 L709.9,697.2 L710.0,698.7 L710.1,700.2 L710.2,701.7 L710.2,703.2 L710.3,704.7 L710.4,706.2 L710.5,707.7 L710.6,709.2 L710.7,710.7 L710.7,712.2 L710.8,713.7 L710.9,715.2 L711.0,716.7 L711.1,718.2 L711.2,719.7 L711.3,721.2 L711.3,722.7 L711.4,724.2 L711.5,725.7 L711.6,727.3 L711.7,728.8 L711.8,730.3 L711.9,731.8 L712.0,733.3 L712.1,734.8 L712.2,736.3 L712.3,737.8 L712.4,739.3 L712.5,740.8 L712.6,742.3 L712.7,743.8 L712.8,745.3 L712.9,746.8 L713.0,748.3 L713.1,749.8 L713.2,751.3 L713.4,752.8 L713.5,754.3 L713.6,755.8 L713.8,757.3 L713.9,758.8 L714.0,760.3 L714.2,761.8 L714.3,763.3 L714.5,764.7 L714.6,766.2 L714.8,767.7 L714.9,769.2 L715.1,770.7 L715.3,772.2 L715.4,773.7 L715.6,775.2 L715.8,776.7 L716.0,778.2 L716.2,779.6 L716.4,781.1 L716.6,782.6 L716.8,784.1 L717.0,785.6 L717.2,787.1 L717.4,788.5 L717.7,790.0 L717.9,791.5 L718.1,793.0 L718.4,794.4 L718.6,795.9 L718.9,797.4 L719.2,798.9 L719.4,800.3 L719.7,801.8 L720.0,803.3 L720.3,804.7 L720.6,806.2 L720.9,807.7 L721.2,809.1 L721.5,810.6 L721.9,812.0 L722.2,813.5 L722.5,815.0 L722.9,816.4 L723.2,817.9 L723.6,819.3 L724.0,820.8 L724.4,822.2 L724.7,823.6 L725.1,825.1 L725.5,826.5 L726.0,828.0 L726.4,829.4 L726.8,830.8 L727.3,832.3 L727.7,833.7 L728.2,835.1 L728.6,836.6 L729.1,838.0 L729.6,839.4 L730.1,840.8 L730.6,842.3 L731.1,843.7 L731.6,845.1 L732.2,846.5 L732.7,847.9 L733.3,849.3 L733.8,850.7 L734.4,852.1 L735.0,853.5 L735.6,854.9 L736.2,856.3 L736.8,857.7 L737.5,859.1 L738.1,860.5 L738.7,861.9 L739.4,863.2 L740.1,864.6 L740.9,865.8 L741.7,867.0 L742.5,868.1 L743.5,869.1 L744.5,869.9 L745.6,870.6 L746.8,871.1 L748.1,871.4 L749.6,871.5 L751.2,871.3 L752.9,870.9 L754.6,870.4 L756.3,869.6 L758.0,868.8 L759.4,867.8 L760.7,866.8 L761.9,865.7 L762.9,864.5 L763.8,863.3 L764.6,862.0 L765.3,860.7 L765.9,859.4 L766.5,858.1 L767.1,856.7 L767.6,855.3 L768.1,853.9 L768.5,852.5 L768.9,851.1 L769.3,849.6 L769.7,848.2 L770.1,846.8 L770.4,845.3 L770.8,843.8 L771.1,842.4 L771.5,840.9 L771.8,839.5 L772.1,838.0 L772.5,836.6 L772.8,835.1 L773.1,833.7 L773.4,832.2 L773.8,830.7 L774.1,829.3 L774.4,827.8 L774.7,826.4 L775.0,824.9 L775.3,823.4 L775.6,822.0 L775.9,820.5 L776.2,819.0 L776.6,817.6 L776.8,816.1 L777.1,814.6 L777.4,813.2 L777.7,811.7 L778.0,810.2 L778.3,808.8 L778.6,807.3 L778.9,805.8 L779.2,804.3 L779.4,802.9 L779.7,801.4 L780.0,799.9 L780.3,798.5 L780.5,797.0 L780.8,795.5 L781.1,794.0 L781.3,792.6 L781.6,791.1 L781.9,789.6 L782.1,788.1 L782.4,786.6 L782.6,785.2 L782.9,783.7 L783.1,782.2 L783.4,780.7 L783.6,779.3 L783.9,777.8 L784.1,776.3 L784.4,774.8 L784.6,773.3 L784.9,771.8 L785.1,770.4 L785.3,768.9 L785.6,767.4 L785.8,765.9 L786.0,764.4 L786.3,763.0 L786.5,761.5 L786.7,760.0 L787.0,758.5 L787.2,757.0 L787.4,755.5 L787.6,754.0 L787.8,752.6 L788.1,751.1 L788.3,749.6 L788.5,748.1 L788.7,746.6 L788.9,745.1 L789.1,743.6 L789.4,742.1 L789.6,740.7 L789.8,739.2 L790.0,737.7 L790.2,736.2 L790.4,734.7 L790.6,733.2 L790.8,731.7 L791.0,730.2 L791.2,728.7 L791.4,727.3 L791.6,725.8 L791.8,724.3 L792.0,722.8 L792.2,721.3 L792.4,719.8 L792.6,718.3 L792.8,716.8 L793.0,715.3 L793.2,713.8 L793.4,712.3 L793.6,710.9 L793.8,709.4 L793.9,707.9 L794.1,706.4 L794.3,704.9 L794.5,703.4 L794.7,701.9 L794.9,700.4 L795.1,698.9 L795.2,697.4 L795.4,695.9 L795.6,694.5 L795.8,693.0 L796.0,691.5 L796.2,690.0 L796.3,688.5 L796.5,687.0 L796.7,685.5 L796.9,684.0 L797.1,682.5 L797.2,681.0 L797.4,679.6 L797.6,678.1 L797.8,676.6 L798.0,675.1 L798.1,673.6 L798.3,672.1 L798.5,670.6 L798.7,669.1 L798.8,667.6 L799.0,666.1 L799.2,664.7 L799.4,663.2 L799.5,661.7 L799.7,660.2 L799.9,658.7 L800.1,657.2 L800.2,655.7 L800.4,654.2 L800.6,652.8 L800.8,651.3 L800.9,649.8 L801.1,648.3 L801.3,646.8 L801.5,645.3 L801.6,643.8 L801.8,642.3 L802.0,640.9 L802.2,639.4 L802.3,637.9 L802.5,636.4 L802.7,634.9 L802.8,633.4 L803.0,631.9 L803.2,630.4 L803.4,629.0 L803.5,627.5 L803.7,626.0 L803.9,624.5 L804.0,623.0 L804.2,621.5 L804.4,620.0 L804.6,618.6 L804.7,617.1 L804.9,615.6 L805.1,614.1 L805.2,612.6 L805.4,611.1 L805.6,609.6 L805.7,608.2 L805.9,606.7 L806.1,605.2 L806.2,603.7 L806.4,602.2 L806.6,600.7 L806.8,599.2 L806.9,597.7 L807.1,596.3 L807.3,594.8 L807.4,593.3 L807.6,591.8 L807.8,590.3 L807.9,588.8 L808.1,587.3 L808.3,585.9 L808.4,584.4 L808.6,582.9 L808.8,581.4 L808.9,579.9 L809.1,578.4 L809.3,576.9 L809.4,575.4 L809.6,574.0 L809.8,572.5 L810.0,571.0 L810.1,569.5 L810.3,568.0 L810.5,566.5 L810.6,565.0 L810.8,563.5 L811.0,562.1 L811.1,560.6 L811.3,559.1 L811.5,557.6 L811.6,556.1 L811.8,554.6 L812.0,553.1 L812.1,551.6 L812.3,550.2 L812.5,548.7 L812.6,547.2 L812.8,545.7 L813.0,544.2 L813.1,542.7 L813.3,541.2 L813.5,539.7 L813.6,538.2 L813.8,536.7 L814.0,535.3 L814.1,533.8 L814.3,532.3 L814.5,530.8 L814.7,529.3 L814.8,527.8 L815.0,526.3 L815.2,524.8 L815.3,523.3 L815.5,521.8 L815.7,520.3 L815.8,518.8 L816.0,517.3 L816.2,515.9 L816.3,514.4 L816.5,512.9 L816.7,511.4 L816.8,509.9 L817.0,508.4 L817.2,506.9 L817.4,505.4 L817.5,503.9 L817.7,502.4 L817.9,500.9 L818.0,499.4 L818.2,497.9 L818.4,496.4 L818.6,494.9 L818.7,493.4 L818.9,491.9 L819.1,490.4 L819.2,488.9 L819.4,487.4 L819.6,485.9 L819.8,484.4 L819.9,482.9 L820.1,481.4 L820.3,479.9 L820.4,478.4 L820.6,476.9 L820.8,475.4 L821.0,473.9 L821.1,472.4 L821.3,470.9 L821.5,469.4 L821.7,467.9 L821.8,466.4 L822.0,464.9 L822.2,463.4 L822.4,461.9 L822.5,460.4 L822.7,458.9 L822.9,457.4 L823.1,455.9 L823.2,454.4 L823.4,452.9 L823.6,451.4 L823.8,449.9 L824.0,448.4 L824.1,446.9 L824.3,445.4 L824.5,443.9 L824.7,442.4 L824.9,440.9 L825.0,439.5 L825.2,438.0 L825.4,436.5 L825.6,435.0 L825.8,433.5 L826.0,432.0 L826.1,430.5 L826.3,429.0 L826.5,427.5 L826.7,426.0 L826.9,424.6 L827.1,423.1 L827.3,421.6 L827.5,420.1 L827.6,418.6 L827.8,417.2 L828.0,415.7 L828.2,414.2 L828.4,412.7 L828.6,411.3 L828.8,409.8 L829.0,408.3 L829.2,406.8 L829.4,405.4 L829.6,403.9 L829.8,402.4 L830.0,401.0 L830.2,399.5 L830.4,398.1 L830.6,396.6 L830.8,395.2 L831.0,393.7 L831.2,392.2 L831.4,390.8 L831.6,389.4 L831.8,387.9 L832.0,386.5 L832.2,385.0 L832.5,383.6 L832.7,382.1 L832.9,380.7 L833.1,379.2 L833.3,377.8 L833.6,376.3 L833.8,374.9 L834.0,373.4 L834.3,372.0 L834.5,370.5 L834.7,369.1 L835.0,367.6 L835.3,366.1 L835.5,364.7 L835.8,363.2 L836.1,361.7 L836.3,360.2 L836.6,358.7 L836.9,357.2 L837.2,355.7 L837.5,354.2 L837.8,352.7 L838.2,351.2 L838.5,349.7 L838.8,348.1 L839.2,346.6 L839.5,345.0 L839.9,343.5 L840.3,341.9 L840.7,340.3 L841.0,338.7 L841.5,337.1 L841.9,335.5 L842.3,333.9 L842.7,332.2 L843.2,330.6 L843.6,328.9 L844.1,327.3 L844.6,325.7 L845.2,324.2 L845.7,322.8 L846.4,321.6 L847.0,320.5 L847.8,319.5 L848.6,318.8 L849.5,318.3 L850.4,318.1 L851.4,318.1 L852.6,318.5 L853.8,319.1 L855.0,319.9 L856.2,320.9 L857.3,322.0 L858.4,323.1 L859.3,324.2 L860.2,325.4 L861.0,326.6 L861.8,327.9 L862.4,329.2 L863.0,330.5 L863.6,331.8 L864.1,333.2 L864.5,334.5 L864.9,336.0 L865.3,337.4 L865.6,338.8 L865.9,340.3 L866.2,341.7 L866.4,343.2 L866.6,344.7 L866.9,346.2 L867.1,347.7 L867.3,349.2 L867.4,350.7 L867.6,352.2 L867.8,353.7 L868.0,355.2 L868.2,356.6 L868.4,358.1 L868.6,359.6 L868.8,361.1 L868.9,362.6 L869.1,364.1 L869.3,365.6 L869.5,367.1 L869.7,368.6 L869.8,370.1 L870.0,371.6 L870.2,373.1 L870.4,374.6 L870.5,376.1 L870.7,377.6 L870.9,379.1 L871.1,380.6 L871.2,382.1 L871.4,383.6 L871.6,385.1 L871.7,386.6 L871.9,388.1 L872.1,389.6 L872.2,391.1 L872.4,392.6 L872.6,394.1 L872.7,395.6 L872.9,397.1 L873.1,398.6 L873.2,400.0 L873.4,401.5 L873.5,403.0 L873.7,404.5 L873.9,406.0 L874.0,407.5 L874.2,409.0 L874.3,410.5 L874.5,412.0 L874.6,413.5 L874.8,415.0 L874.9,416.5 L875.1,418.0 L875.2,419.5 L875.4,421.0 L875.5,422.5 L875.7,424.0 L875.8,425.5 L876.0,427.0 L876.1,428.5 L876.3,430.0 L876.4,431.5 L876.6,433.0 L876.7,434.5 L876.9,436.0 L877.0,437.5 L877.1,439.0 L877.3,440.5 L877.4,442.0 L877.6,443.4 L877.7,444.9 L877.8,446.4 L878.0,447.9 L878.1,449.4 L878.2,450.9 L878.4,452.4 L878.5,453.9 L878.6,455.4 L878.8,456.9 L878.9,458.4 L879.0,459.9 L879.2,461.4 L879.3,462.9 L879.4,464.4 L879.5,465.9 L879.7,467.4 L879.8,468.9 L879.9,470.4 L880.1,471.9 L880.2,473.4 L880.3,474.9 L880.4,476.4 L880.5,477.9 L880.7,479.4 L880.8,480.9 L880.9,482.4 L881.0,483.9 L881.2,485.4 L881.3,486.8 L881.4,488.3 L881.5,489.8 L881.6,491.3 L881.7,492.8 L881.9,494.3 L882.0,495.8 L882.1,497.3 L882.2,498.8 L882.3,500.3 L882.4,501.8 L882.5,503.3 L882.7,504.8 L882.8,506.3 L882.9,507.8 L883.0,509.3 L883.1,510.8 L883.2,512.3 L883.3,513.8 L883.4,515.3 L883.5,516.8 L883.6,518.3 L883.8,519.8 L883.9,521.3 L884.0,522.8 L884.1,524.3 L884.2,525.8 L884.3,527.3 L884.4,528.8 L884.5,530.3 L884.6,531.7 L884.7,533.2 L884.8,534.7 L884.9,536.2 L885.0,537.7 L885.1,539.2 L885.2,540.7 L885.3,542.2 L885.4,543.7 L885.5,545.2 L885.6,546.7 L885.7,548.2 L885.8,549.7 L885.9,551.2 L886.0,552.7 L886.1,554.2 L886.2,555.7 L886.3,557.2 L886.4,558.7 L886.5,560.2 L886.6,561.7 L886.6,563.2 L886.7,564.7 L886.8,566.2 L886.9,567.7 L887.0,569.2 L887.1,570.7 L887.2,572.2 L887.3,573.7 L887.4,575.2 L887.5,576.6 L887.6,578.1 L887.7,579.6 L887.7,581.1 L887.8,582.6 L887.9,584.1 L888.0,585.6 L888.1,587.1 L888.2,588.6 L888.3,590.1 L888.4,591.6 L888.4,593.1 L888.5,594.6 L888.6,596.1 L888.7,597.6 L888.8,599.1 L888.9,600.6 L889.0,602.1 L889.0,603.6 L889.1,605.1 L889.2,606.6 L889.3,608.1 L889.4,609.6 L889.5,611.1 L889.5,612.6 L889.6,614.1 L889.7,615.6 L889.8,617.1 L889.9,618.6 L889.9,620.1 L890.0,621.5 L890.1,623.0 L890.2,624.5 L890.3,626.0 L890.4,627.5 L890.4,629.0 L890.5,630.5 L890.6,632.0 L890.7,633.5 L890.8,635.0 L890.8,636.5 L890.9,638.0 L891.0,639.5 L891.1,641.0 L891.1,642.5 L891.2,644.0 L891.3,645.5 L891.4,647.0 L891.5,648.5 L891.5,650.0 L891.6,651.5 L891.7,653.0 L891.8,654.5 L891.8,656.0 L891.9,657.5 L892.0,659.0 L892.1,660.5 L892.1,662.0 L892.2,663.5 L892.3,665.0 L892.4,666.5 L892.5,668.0 L892.5,669.4 L892.6,670.9 L892.7,672.4 L892.8,673.9 L892.8,675.4 L892.9,676.9 L893.0,678.4 L893.1,679.9 L893.1,681.4 L893.2,682.9 L893.3,684.4 L893.4,685.9 L893.4,687.4 L893.5,688.9 L893.6,690.4 L893.7,691.9 L893.7,693.4 L893.8,694.9 L893.9,696.4 L894.0,697.9 L894.0,699.4 L894.1,700.9 L894.2,702.4 L894.2,703.9 L894.3,705.4 L894.4,706.9 L894.5,708.4 L894.5,709.9 L894.6,711.4 L894.7,712.9 L894.8,714.4 L894.8,715.9 L894.9,717.3 L895.0,718.8 L895.1,720.3 L895.1,721.8 L895.2,723.3 L895.3,724.8 L895.4,726.3 L895.4,727.8 L895.5,729.3 L895.6,730.8 L895.7,732.3 L895.7,733.8 L895.8,735.3 L895.9,736.8 L896.0,738.3 L896.0,739.8 L896.1,741.3 L896.2,742.8 L896.3,744.3 L896.3,745.8 L896.4,747.3 L896.5,748.8 L896.6,750.3 L896.6,751.8 L896.7,753.3 L896.8,754.8 L896.9,756.3 L896.9,757.8 L897.0,759.3 L897.1,760.8 L897.2,762.3 L897.3,763.8 L897.3,765.3 L897.4,766.8 L897.5,768.2 L897.6,769.7 L897.6,771.2 L897.7,772.7 L897.8,774.2 L897.9,775.7 L898.0,777.2 L898.0,778.7 L898.1,780.2 L898.2,781.7 L898.3,783.2 L898.3,784.7 L898.4,786.2 L898.5,787.7 L898.6,789.2 L898.7,790.7 L898.7,792.2 L898.8,793.7 L898.9,795.2 L899.0,796.7 L899.1,798.2 L899.2,799.7 L899.2,801.2 L899.3,802.7 L899.4,804.2 L899.5,805.7 L899.6,807.2 L899.7,808.7 L899.7,810.2 L899.8,811.7 L899.9,813.2 L900.0,814.7 L900.1,816.2 L900.2,817.7 L900.2,819.2 L900.3,820.7 L900.4,822.1 L900.5,823.6 L900.6,825.1 L900.7,826.6 L900.8,828.1 L900.8,829.6 L900.9,831.1 L901.0,832.6 L901.1,834.1 L901.2,835.6 L901.3,837.1 L901.4,838.6 L901.5,840.1 L901.5,841.6 L901.6,843.1 L901.7,844.6 L901.8,846.1 L901.9,847.6 L902.0,849.1 L902.1,850.6 L902.2,852.1 L902.3,853.6 L902.4,855.1 L902.4,856.6 L902.5,858.1 L902.6,859.6 L902.7,861.1 L902.8,862.6 L902.9,864.1 L903.0,865.6 L903.1,867.1 L903.2,868.6 L903.3,870.1 L903.4,871.6 L903.5,873.1 L903.6,874.6 L903.7,876.1 L903.8,877.5 L903.8,879.0 L903.9,880.5 L904.0,882.0 L904.1,883.5 L904.2,885.0 L904.3,886.5 L904.4,888.0 L904.5,889.5 L904.6,891.0 L904.7,892.5 L904.8,894.0 L904.9,895.5 L905.0,897.0 L905.1,898.5 L905.2,900.0 L905.3,901.5 L905.4,903.0 L905.5,904.5 L905.6,906.0 L905.7,907.5 L905.8,909.0 L905.9,910.5 L906.0,912.0 L906.1,913.5 L906.2,915.0 L906.3,916.5 L906.4,918.0 L906.5,919.5 L906.6,921.0 L906.7,922.5 L906.8,924.0 L906.9,925.5 L907.0,927.0 L907.1,928.4 L907.2,929.9 L907.3,931.4 L907.4,932.9 L907.5,934.4 L907.7,935.9 L907.8,937.4 L907.9,938.9 L908.0,940.4 L908.1,941.9 L908.2,943.4 L908.3,944.9 L908.4,946.4 L908.5,947.9 L908.6,949.4 L908.7,950.9 L908.8,952.4 L908.9,953.9 L909.0,955.4 L909.1,956.9 L909.3,958.4 L909.4,959.9 L909.5,961.4 L909.6,962.9 L909.7,964.4 L909.8,965.9 L909.9,967.4 L910.0,968.9 L910.1,970.4 L910.3,971.9 L910.4,973.3 L910.5,974.8 L910.6,976.3 L910.7,977.8 L910.8,979.3 L910.9,980.8 L911.0,982.3 L911.2,983.8 L911.3,985.3 L911.4,986.8 L911.5,988.3 L911.6,989.8 L911.7,991.3 L911.8,992.8 L912.0,994.3 L912.1,995.8 L912.2,997.3 L912.3,998.8 L912.4,1000.3 L912.5,1001.8 L912.7,1003.3 L912.8,1004.8 L912.9,1006.3 L913.0,1007.8 L913.1,1009.3 L913.2,1010.8 L913.4,1012.2 L913.5,1013.7 L913.6,1015.2 L913.7,1016.7 L913.8,1018.2 L914.0,1019.7 L914.1,1021.2 L914.2,1022.7 L914.3,1024.2 L914.4,1025.7 L914.6,1027.2 L914.7,1028.7 L914.8,1030.2 L914.9,1031.7 L915.0,1033.2 L915.2,1034.7 L915.3,1036.2 L915.4,1037.7 L915.5,1039.2 L915.7,1040.7 L915.8,1042.2 L915.9,1043.7 L916.0,1045.2 L916.2,1046.6 L916.3,1048.1 L916.4,1049.6 L916.5,1051.1 L916.7,1052.6 L916.8,1054.1 L916.9,1055.6 L917.0,1057.1 L917.2,1058.6 L917.3,1060.1 L917.4,1061.6 L917.6,1063.1 L917.7,1064.6 L917.8,1066.1 L917.9,1067.6 L918.1,1069.1 L918.2,1070.6 L918.3,1072.1 L918.5,1073.6 L918.6,1075.1 L918.7,1076.5 L918.8,1078.0 L919.0,1079.5 L919.1,1081.0 L919.2,1082.5 L919.4,1084.0 L919.5,1085.5 L919.6,1087.0 L919.8,1088.5 L919.9,1090.0 L920.0,1091.5 L920.2,1093.0 L920.3,1094.5 L920.4,1096.0 L920.6,1097.5 L920.7,1099.0 L920.8,1100.5 L921.0,1101.9 L921.1,1103.4 L921.2,1104.9 L921.4,1106.4 L921.5,1107.9 L921.7,1109.4 L921.8,1110.9 L921.9,1112.4 L922.1,1113.9 L922.2,1115.4 L922.3,1116.9 L922.5,1118.4 L922.6,1119.9 L922.8,1121.4 L922.9,1122.9 L923.0,1124.4 L923.2,1125.8 L923.3,1127.3 L923.5,1128.8 L923.6,1130.3 L923.7,1131.8 L923.9,1133.3 L924.0,1134.8 L924.2,1136.3 L924.3,1137.8 L924.4,1139.3 L924.6,1140.8 L924.7,1142.3 L924.9,1143.8 L925.0,1145.3 L925.2,1146.8 L925.3,1148.2 L925.4,1149.7 L925.6,1151.2 L925.7,1152.7 L925.9,1154.2 L926.0,1155.7 L926.2,1157.2 L926.3,1158.7 L926.5,1160.2 L926.6,1161.7 L926.8,1163.2 L926.9,1164.7 L927.1,1166.2 L927.2,1167.6 L927.3,1169.1 L927.5,1170.6 L927.6,1172.1 L927.8,1173.6 L927.9,1175.1 L928.1,1176.6 L928.2,1178.1 L928.4,1179.6 L928.5,1181.1 L928.7,1182.6 L928.8,1184.1 L929.0,1185.5 L929.1,1187.0 L929.3,1188.5 L929.4,1190.0 L929.6,1191.5 L929.8,1193.0 L929.9,1194.5 L930.1,1196.0 L930.2,1197.5 L930.4,1199.0 L930.5,1200.5 L930.7,1202.0 L930.8,1203.4 L931.0,1204.9 L931.1,1206.4 L931.3,1207.9 L931.4,1209.4 L931.6,1210.9 L931.8,1212.4 L931.9,1213.9 L932.1,1215.4 L932.2,1216.9 L932.4,1218.4 L932.5,1219.8 L932.7,1221.3 L932.9,1222.8 L933.0,1224.3 L933.2,1225.8 L933.3,1227.3 L933.5,1228.8 L933.7,1230.3 L933.8,1231.8 L934.0,1233.2 L934.2,1234.7 L934.3,1236.2 L934.5,1237.7 L934.7,1239.2 L934.9,1240.7 L935.1,1242.2 L935.2,1243.7 L935.4,1245.1 L935.6,1246.6 L935.8,1248.1 L936.0,1249.6 L936.2,1251.1 L936.4,1252.6 L936.6,1254.1 L936.8,1255.5 L937.1,1257.0 L937.3,1258.5 L937.5,1260.0 L937.7,1261.5 L938.0,1262.9 L938.2,1264.4 L938.5,1265.9 L938.7,1267.4 L939.0,1268.8 L939.3,1270.3 L939.5,1271.8 L939.8,1273.3 L940.1,1274.7 L940.4,1276.2 L940.7,1277.7 L941.0,1279.1 L941.3,1280.6 L941.6,1282.1 L942.0,1283.5 L942.3,1285.0 L942.6,1286.4 L943.0,1287.9 L943.4,1289.4 L943.7,1290.8 L944.1,1292.3 L944.5,1293.7 L944.9,1295.2 L945.3,1296.6 L945.7,1298.1 L946.1,1299.6 L946.5,1301.0 L946.9,1302.4 L947.4,1303.9 L947.8,1305.3 L948.2,1306.8 L948.7,1308.2 L949.1,1309.7 L949.5,1311.1 L950.0,1312.6 L950.4,1314.0 L950.9,1315.4 L951.3,1316.9 L951.8,1318.3 L952.2,1319.7 L952.7,1321.2 L953.1,1322.6 L953.6,1324.0 L954.0,1325.5 L954.5,1326.9 L954.9,1328.3 L955.4,1329.7 L955.8,1331.2 L956.3,1332.6 L956.7,1334.0 L957.1,1335.4 L957.6,1336.9 L958.0,1338.3 L958.4,1339.7 L958.8,1341.1 L959.3,1342.5 L959.7,1343.9 L960.1,1345.3 L960.6,1346.7 L961.0,1348.1 L961.5,1349.5 L962.0,1350.9 L962.5,1352.3 L963.1,1353.7 L963.6,1355.1 L964.2,1356.4 L964.9,1357.8 L965.6,1359.1 L966.3,1360.5 L967.0,1361.8 L967.8,1363.2 L968.7,1364.5 L969.6,1365.8 L970.5,1367.1 L971.5,1368.3 L972.6,1369.6 L973.7,1370.8 L974.9,1371.9 L976.1,1372.9 L977.4,1373.7 L978.7,1374.3 L980.0,1374.7 L981.4,1374.8 L982.8,1374.8 L984.2,1374.6 L985.6,1374.3 L987.0,1373.8 L988.4,1373.2 L989.7,1372.5 L991.0,1371.8 L992.3,1371.0 L993.5,1370.1 L994.7,1369.3 L995.8,1368.3 L996.9,1367.3 L998.0,1366.3 L999.0,1365.3 L1000.0,1364.2 L1001.0,1363.0 L1001.9,1361.9 L1002.8,1360.7 L1003.6,1359.5 L1004.5,1358.3 L1005.3,1357.0 L1006.1,1355.7 L1006.9,1354.4 L1007.6,1353.1 L1008.4,1351.8 L1009.1,1350.4 L1009.8,1349.1 L1010.5,1347.7 L1011.2,1346.3 L1011.9,1344.9 L1012.6,1343.6 L1013.3,1342.2 L1013.9,1340.8 L1014.6,1339.4 L1015.3,1338.1 L1016.0,1336.7 L1016.7,1335.3 L1017.3,1334.0 L1018.0,1332.6 L1018.7,1331.3 L1019.4,1330.0 L1020.1,1328.6 L1020.8,1327.3 L1021.5,1326.0 L1022.2,1324.7 L1022.8,1323.3 L1023.5,1322.0 L1024.2,1320.7 L1024.9,1319.4 L1025.6,1318.1 L1026.3,1316.8 L1027.0,1315.5 L1027.7,1314.2 L1028.4,1312.8 L1029.1,1311.5 L1029.8,1310.2 L1030.5,1308.9 L1031.2,1307.6 L1031.9,1306.3 L1032.6,1305.0 L1033.2,1303.7 L1033.9,1302.4 L1034.6,1301.0 L1035.3,1299.7 L1036.0,1298.4 L1036.7,1297.1 L1037.4,1295.8 L1038.0,1294.4 L1038.7,1293.1 L1039.4,1291.7 L1040.1,1290.4 L1040.7,1289.0 L1041.4,1287.7 L1042.1,1286.3 L1042.7,1285.0 L1043.4,1283.6 L1044.1,1282.2 L1044.7,1280.9 L1045.4,1279.5 L1046.1,1278.2 L1046.8,1276.8 L1047.5,1275.5 L1048.3,1274.1 L1049.0,1272.8 L1049.7,1271.5 L1050.5,1270.2 L1051.3,1268.9 L1052.1,1267.6 L1052.9,1266.4 L1053.8,1265.1 L1054.6,1263.9 L1055.5,1262.7 L1056.4,1261.5 L1057.4,1260.3 L1058.4,1259.2 L1059.4,1258.1 L1060.4,1257.0 L1061.4,1255.9 L1062.5,1254.9 L1063.7,1253.9 L1064.8,1252.9 L1066.0,1251.9 L1067.3,1251.0 L1068.6,1250.2 L1069.9,1249.3 L1071.2,1248.6 L1072.5,1247.9 L1073.9,1247.3 L1075.3,1246.8 L1076.6,1246.4 L1078.0,1246.1 L1079.4,1246.0 L1080.7,1245.9 L1082.1,1246.0 L1083.4,1246.2 L1084.7,1246.6 L1086.0,1247.0 L1087.3,1247.6 L1088.6,1248.2 L1089.8,1249.0 L1091.1,1249.8 L1092.3,1250.7 L1093.5,1251.6 L1094.6,1252.6 L1095.8,1253.7 L1096.9,1254.8 L1098.0,1256.0 L1099.1,1257.1 L1100.2,1258.3 L1101.2,1259.5 L1102.2,1260.7 L1103.2,1261.9 L1104.1,1263.2 L1105.1,1264.4 L1106.0,1265.7 L1106.9,1266.9 L1107.7,1268.2 L1108.6,1269.5 L1109.4,1270.7 L1110.2,1272.0 L1111.0,1273.3 L1111.8,1274.6 L1112.5,1275.9 L1113.3,1277.2 L1114.0,1278.5 L1114.7,1279.8 L1115.4,1281.2 L1116.1,1282.5 L1116.8,1283.8 L1117.5,1285.2 L1118.1,1286.5 L1118.8,1287.9 L1119.4,1289.2 L1120.0,1290.6 L1120.7,1291.9 L1121.3,1293.3 L1121.9,1294.6 L1122.5,1296.0 L1123.1,1297.3 L1123.7,1298.7 L1124.3,1300.1 L1124.9,1301.4 L1125.5,1302.8 L1126.1,1304.1 L1126.7,1305.5 L1127.3,1306.9 L1127.9,1308.2 L1128.5,1309.6 L1129.1,1311.0 L1129.7,1312.3 L1130.3,1313.7 L1130.8,1315.1 L1131.4,1316.4 L1132.0,1317.8 L1132.6,1319.2 L1133.2,1320.5 L1133.7,1321.9 L1134.3,1323.3 L1134.9,1324.6 L1135.5,1326.0 L1136.1,1327.4 L1136.6,1328.8 L1137.2,1330.1 L1137.8,1331.5 L1138.4,1332.9 L1138.9,1334.2 L1139.5,1335.6 L1140.1,1337.0 L1140.7,1338.3 L1141.3,1339.7 L1141.8,1341.1 L1142.4,1342.5 L1143.0,1343.8 L1143.6,1345.2 L1144.2,1346.6 L1144.8,1347.9 L1145.4,1349.3 L1145.9,1350.7 L1146.5,1352.0 L1147.1,1353.4 L1147.7,1354.8 L1148.3,1356.2 L1148.9,1357.5 L1149.5,1358.9 L1150.1,1360.3 L1150.7,1361.6 L1151.3,1363.0 L1151.9,1364.3 L1152.6,1365.7 L1153.2,1367.1 L1153.8,1368.4 L1154.4,1369.8 L1155.0,1371.2 L1155.7,1372.5 L1156.3,1373.9 L1156.9,1375.2 L1157.6,1376.6 L1158.2,1378.0 L1158.9,1379.3 L1159.5,1380.7 L1160.2,1382.0 L1160.8,1383.4 L1161.5,1384.7 L1162.2,1386.1 L1162.8,1387.4 L1163.5,1388.8 L1164.2,1390.1 L1164.9,1391.5 L1165.5,1392.8 L1166.2,1394.2 L1166.9,1395.5 L1167.6,1396.9 L1168.3,1398.2 L1169.0,1399.5 L1169.8,1400.9 L1170.5,1402.2 L1171.2,1403.5 L1171.9,1404.9 L1172.7,1406.2 L1173.4,1407.5 L1174.1,1408.8 L1174.9,1410.2 L1175.6,1411.5 L1176.4,1412.8 L1177.1,1414.1 L1177.9,1415.4 L1178.7,1416.7 L1179.4,1418.0 L1180.2,1419.3 L1181.0,1420.6 L1181.8,1421.9 L1182.6,1423.2 L1183.4,1424.5 L1184.2,1425.8 L1185.0,1427.0 L1185.8,1428.3 L1186.6,1429.6 L1187.5,1430.8 L1188.3,1432.1 L1189.1,1433.4 L1190.0,1434.6 L1190.8,1435.9 L1191.7,1437.1 L1192.5,1438.4 L1193.4,1439.6 L1194.2,1440.8 L1195.1,1442.1 L1196.0,1443.3 L1196.9,1444.5 L1197.8,1445.7 L1198.7,1447.0 L1199.6,1448.2 L1200.5,1449.4 L1201.4,1450.6 L1202.3,1451.8 L1203.2,1452.9 L1204.1,1454.1 L1205.1,1455.3 L1206.0,1456.5 L1206.9,1457.6 L1207.9,1458.8 L1208.9,1459.9 L1209.8,1461.1 L1210.8,1462.2 L1211.8,1463.4 L1212.7,1464.5 L1213.7,1465.6 L1214.7,1466.7 L1215.7,1467.8 L1216.7,1469.0 L1217.7,1470.1 L1218.7,1471.1 L1219.8,1472.2 L1220.8,1473.3 L1221.8,1474.4 L1222.9,1475.4 L1223.9,1476.5 L1225.0,1477.6 L1226.0,1478.6 L1227.1,1479.6 L1228.2,1480.7 L1229.2,1481.7 L1230.3,1482.7 L1231.4,1483.7 L1232.5,1484.7 L1233.6,1485.7 L1234.7,1486.7 L1235.8,1487.7 L1237.0,1488.6 L1238.1,1489.6 L1239.2,1490.6 L1240.4,1491.5 L1241.5,1492.4 L1242.7,1493.4 L1243.9,1494.3 L1245.0,1495.2 L1246.2,1496.1 L1247.4,1497.0 L1248.6,1497.9 L1249.8,1498.8 L1251.0,1499.7 L1252.2,1500.5 L1253.4,1501.4 L1254.6,1502.2 L1255.8,1503.1 L1257.1,1503.9 L1258.3,1504.7 L1259.5,1505.6 L1260.8,1506.4 L1262.0,1507.2 L1263.3,1508.0 L1264.6,1508.8 L1265.8,1509.6 L1267.1,1510.3 L1268.4,1511.1 L1269.7,1511.9 L1271.0,1512.6 L1272.3,1513.4 L1273.5,1514.1 L1274.9,1514.8 L1276.2,1515.6 L1277.5,1516.3 L1278.8,1517.0 L1280.1,1517.7 L1281.4,1518.4 L1282.8,1519.1 L1284.1,1519.8 L1285.4,1520.4 L1286.8,1521.1 L1288.1,1521.8 L1289.5,1522.4 L1290.8,1523.1 L1292.2,1523.7 L1293.6,1524.4 L1294.9,1525.0 L1296.3,1525.6 L1297.7,1526.2 L1299.0,1526.8 L1300.4,1527.4 L1301.8,1528.0 L1303.2,1528.6 L1304.6,1529.2 L1306.0,1529.8 L1307.4,1530.3 L1308.8,1530.9 L1310.2,1531.5 L1311.6,1532.0 L1313.0,1532.6 L1314.4,1533.1 L1315.8,1533.6 L1317.2,1534.1 L1318.6,1534.7 L1320.0,1535.2 L1321.5,1535.7 L1322.9,1536.2 L1324.3,1536.7 L1325.8,1537.1 L1327.2,1537.6 L1328.6,1538.1 L1330.1,1538.5 L1331.5,1539.0 L1332.9,1539.4 L1334.4,1539.8 L1335.8,1540.3 L1337.3,1540.7 L1338.7,1541.1 L1340.2,1541.5 L1341.6,1541.9 L1343.1,1542.2 L1344.5,1542.6 L1346.0,1543.0 L1347.4,1543.3 L1348.9,1543.7 L1350.3,1544.0 L1351.8,1544.3 L1353.3,1544.6 L1354.7,1544.9 L1356.2,1545.2 L1357.7,1545.5 L1359.1,1545.8 L1360.6,1546.1 L1362.1,1546.3 L1363.5,1546.6 L1365.0,1546.8 L1366.5,1547.1 L1367.9,1547.3 L1369.4,1547.6 L1370.9,1547.8 L1372.4,1548.0 L1373.8,1548.2 L1375.3,1548.4 L1376.8,1548.6 L1378.3,1548.8 L1379.8,1549.0 L1381.3,1549.2 L1382.7,1549.3 L1384.2,1549.5 L1385.7,1549.7 L1387.2,1549.8 L1388.7,1550.0 L1390.2,1550.1 L1391.7,1550.3 L1393.1,1550.4 L1394.6,1550.5 L1396.1,1550.6 L1397.6,1550.8 L1399.1,1550.9 L1400.6,1551.0 L1402.1,1551.1 L1403.6,1551.2 L1405.1,1551.3 L1406.6,1551.4 L1408.1,1551.5 L1409.6,1551.6 L1411.1,1551.7 L1412.6,1551.8 L1414.1,1551.9 L1415.6,1551.9 L1417.1,1552.0 L1418.6,1552.1 L1420.1,1552.2 L1421.5,1552.2 L1423.0,1552.3 L1424.5,1552.4 L1426.0,1552.4 L1427.5,1552.5 L1429.0,1552.5 L1430.5,1552.6 L1432.0,1552.7 L1433.5,1552.7 L1435.0,1552.8 L1436.6,1552.8 L1438.1,1552.9 L1439.6,1552.9 L1441.1,1553.0 L1442.6,1553.0 L1444.1,1553.1 L1445.6,1553.1 L1447.1,1553.2 L1448.6,1553.2 L1450.1,1553.3 L1451.6,1553.3 L1453.1,1553.4 L1454.6,1553.4 L1456.1,1553.5 L1457.6,1553.5 L1459.1,1553.6 L1460.6,1553.6 L1462.1,1553.7 L1463.6,1553.7 L1465.1,1553.8 L1466.6,1553.8 L1468.1,1553.8 L1469.6,1553.9 L1471.1,1553.9 L1472.6,1554.0 L1474.1,1554.0 L1475.6,1554.1 L1477.1,1554.1 L1478.6,1554.2 L1480.1,1554.2 L1481.6,1554.2 L1483.1,1554.3 L1484.6,1554.3 L1486.1,1554.4 L1487.6,1554.4 L1489.1,1554.4 L1490.6,1554.5 L1492.1,1554.5 L1493.6,1554.6 L1495.1,1554.6 L1496.6,1554.6 L1498.1,1554.7 L1499.6,1554.7 L1501.1,1554.8 L1502.6,1554.8 L1504.1,1554.8 L1505.6,1554.9 L1507.1,1554.9 L1508.6,1555.0 L1510.1,1555.0 L1511.6,1555.0 L1513.1,1555.1 L1514.6,1555.1 L1516.1,1555.1 L1517.6,1555.2 L1519.1,1555.2 L1520.6,1555.2 L1522.1,1555.3 L1523.6,1555.3 L1525.1,1555.3 L1526.6,1555.4 L1528.1,1555.4 L1529.6,1555.4 L1531.1,1555.5 L1532.6,1555.5 L1534.1,1555.5 L1535.6,1555.6 L1537.1,1555.6 L1538.6,1555.6 L1540.1,1555.7 L1541.6,1555.7 L1543.1,1555.7 L1544.6,1555.8 L1546.1,1555.8 L1547.6,1555.8 L1549.1,1555.8 L1550.6,1555.9 L1552.1,1555.9 L1553.6,1555.9 L1555.1,1556.0 L1556.6,1556.0 L1558.1,1556.0 L1559.6,1556.0 L1561.1,1556.1 L1562.6,1556.1 L1564.1,1556.1 L1565.6,1556.2 L1567.1,1556.2 L1568.6,1556.2 L1570.1,1556.2 L1571.6,1556.3 L1573.1,1556.3 L1574.6,1556.3 L1576.1,1556.3 L1577.6,1556.4 L1579.1,1556.4 L1580.6,1556.4 L1582.1,1556.4 L1583.6,1556.5 L1585.1,1556.5 L1586.6,1556.5 L1588.1,1556.5 L1589.6,1556.6 L1591.1,1556.6 L1592.6,1556.6 L1594.1,1556.6 L1595.6,1556.6 L1597.1,1556.7 L1598.6,1556.7 L1600.1,1556.7 L1601.6,1556.7 L1603.1,1556.8 L1604.6,1556.8 L1606.1,1556.8 L1607.6,1556.8 L1609.1,1556.8 L1610.6,1556.9 L1612.1,1556.9 L1613.6,1556.9 L1615.1,1556.9 L1616.6,1556.9 L1618.1,1557.0 L1619.6,1557.0 L1621.1,1557.0 L1622.6,1557.0 L1624.1,1557.0 L1625.6,1557.1 L1627.1,1557.1 L1628.6,1557.1 L1630.1,1557.1 L1631.6,1557.1 L1633.1,1557.1 L1634.6,1557.2 L1636.1,1557.2 L1637.6,1557.2 L1639.1,1557.2 L1640.6,1557.2 L1642.1,1557.2 L1643.6,1557.3 L1645.1,1557.3 L1646.6,1557.3 L1648.1,1557.3 L1649.6,1557.3 L1651.1,1557.3 L1652.6,1557.4 L1654.1,1557.4 L1655.6,1557.4 L1657.1,1557.4 L1658.6,1557.4 L1660.1,1557.4 L1661.6,1557.4 L1663.1,1557.5 L1664.6,1557.5 L1666.1,1557.5 L1667.6,1557.5 L1669.1,1557.5 L1670.6,1557.5 L1672.1,1557.5 L1673.6,1557.6 L1675.1,1557.6 L1676.6,1557.6 L1678.1,1557.6 L1679.6,1557.6 L1681.1,1557.6 L1682.6,1557.6 L1684.1,1557.6 L1685.6,1557.7 L1687.1,1557.7 L1688.6,1557.7 L1690.1,1557.7 L1691.6,1557.7 L1693.1,1557.7 L1694.6,1557.7 L1696.1,1557.7 L1697.6,1557.8 L1699.1,1557.8 L1700.6,1557.8 L1702.1,1557.8 L1703.6,1557.8 L1705.1,1557.8 L1706.6,1557.8 L1708.1,1557.8 L1709.6,1557.8 L1711.1,1557.8 L1712.6,1557.9 L1714.1,1557.9 L1715.6,1557.9 L1717.1,1557.9 L1718.6,1557.9 L1720.1,1557.9 L1721.6,1557.9 L1723.1,1557.9 L1724.6,1557.9 L1726.1,1557.9 L1727.6,1558.0 L1729.1,1558.0 L1730.6,1558.0 L1732.1,1558.0 L1733.6,1558.0 L1735.1,1558.0 L1736.6,1558.0 L1738.1,1558.0 L1739.6,1558.0 L1741.1,1558.0 L1742.6,1558.0 L1744.1,1558.1 L1745.6,1558.1 L1747.1,1558.1 L1748.6,1558.1 L1750.1,1558.1 L1751.6,1558.1 L1753.1,1558.1 L1754.6,1558.1 L1756.1,1558.1 L1757.6,1558.1 L1759.1,1558.1 L1760.6,1558.1 L1762.1,1558.1 L1763.6,1558.2 L1765.1,1558.2 L1766.6,1558.2 L1768.1,1558.2 L1769.6,1558.2 L1771.1,1558.2 L1772.6,1558.2 L1774.1,1558.2 L1775.6,1558.2 L1777.1,1558.2 L1778.6,1558.2 L1780.0,1558.2 L1781.5,1558.2 L1783.0,1558.2 L1784.5,1558.3 L1786.0,1558.3 L1787.5,1558.3 L1789.0,1558.3 L1790.5,1558.3 L1792.0,1558.3 L1793.5,1558.3 L1795.0,1558.3 L1796.5,1558.3 L1798.0,1558.3 L1799.5,1558.3 L1801.0,1558.3 L1802.5,1558.3 L1804.0,1558.3 L1805.5,1558.3 L1807.0,1558.4 L1808.5,1558.4 L1810.0,1558.4 L1811.5,1558.4 L1813.0,1558.4 L1814.5,1558.4 L1816.0,1558.4 L1817.5,1558.4 L1819.0,1558.4 L1820.5,1558.4 L1822.0,1558.4 L1823.5,1558.4 L1825.0,1558.4 L1826.5,1558.4 L1828.0,1558.4 L1829.5,1558.5 L1831.0,1558.5 L1832.5,1558.5 L1834.0,1558.5 L1835.5,1558.5 L1837.0,1558.5 L1838.5,1558.5 L1840.0,1558.5 L1841.5,1558.5 L1843.0,1558.5 L1844.5,1558.5 L1846.0,1558.5 L1847.5,1558.5 L1849.0,1558.5 L1850.5,1558.5 L1852.0,1558.6 L1853.5,1558.6 L1855.0,1558.6 L1856.5,1558.6 L1858.0,1558.6 L1859.5,1558.6 L1861.0,1558.6 L1862.5,1558.6 L1864.0,1558.6 L1865.5,1558.6 L1867.0,1558.6 L1868.5,1558.6 L1870.0,1558.6 L1871.5,1558.6 L1873.0,1558.7 L1874.5,1558.7 L1876.0,1558.7 L1877.5,1558.7 L1879.0,1558.7 L1880.5,1558.7 L1882.0,1558.7 L1883.5,1558.7 L1885.0,1558.7 L1886.5,1558.7 L1888.0,1558.7 L1889.5,1558.7 L1891.0,1558.7 L1892.5,1558.8 L1894.0,1558.8 L1895.5,1558.8 L1897.0,1558.8 L1898.5,1558.8 L1900.0,1558.8 L1901.5,1558.8 L1903.0,1558.8 L1904.5,1558.8 L1906.0,1558.8 L1907.5,1558.8 L1909.0,1558.8 L1910.5,1558.9 L1912.0,1558.9 L1913.5,1558.9 L1915.0,1558.9 L1916.5,1558.9 L1918.0,1558.9 L1919.5,1558.9 L1921.0,1558.9 L1922.5,1558.9 L1924.0,1558.9 L1925.5,1559.0 L1927.0,1559.0 L1928.5,1559.0 L1930.0,1559.0 L1931.5,1559.0 L1933.0,1559.0 L1934.5,1559.0 L1936.0,1559.0 L1937.5,1559.0 L1939.0,1559.0 L1940.5,1559.1 L1942.0,1559.1 L1943.5,1559.1 L1945.0,1559.1 L1946.5,1559.1 L1948.0,1559.1 L1949.5,1559.1 L1951.0,1559.1 L1952.5,1559.2 L1954.0,1559.2 L1955.5,1559.2 L1957.0,1559.2 L1958.5,1559.2 L1960.0,1559.2 L1961.5,1559.2 L1963.0,1559.2 L1964.5,1559.3 L1966.0,1559.3 L1967.5,1559.3 L1969.0,1559.3 L1970.5,1559.3 L1972.0,1559.3 L1973.5,1559.3 L1975.0,1559.3 L1976.5,1559.4 L1978.0,1559.4 L1979.5,1559.4 L1981.0,1559.4 L1982.5,1559.4 L1984.0,1559.4 L1985.5,1559.5 L1987.0,1559.5 L1988.5,1559.5 L1990.0,1559.5 L1991.5,1559.5 L1993.0,1559.5 L1994.5,1559.5 L1996.0,1559.6 L1997.5,1559.6 L1999.0,1559.6 L2000.5,1559.6 L2002.0,1559.6 L2003.5,1559.6 L2005.0,1559.7 L2006.5,1559.7 L2008.0,1559.7 L2009.5,1559.7 L2011.0,1559.7 L2012.5,1559.8 L2014.0,1559.8 L2015.5,1559.8 L2017.0,1559.8 L2018.5,1559.8 L2020.0,1559.8 L2021.5,1559.9 L2023.0,1559.9 L2024.5,1559.9 L2026.0,1559.9 L2027.5,1559.9 L2029.0,1560.0 L2030.5,1560.0 L2032.0,1560.0 L2033.5,1560.0 L2035.0,1560.0 L2036.5,1560.1 L2038.0,1560.1 L2039.5,1560.1 L2041.0,1560.1 L2042.5,1560.2 L2044.0,1560.2 L2045.5,1560.2 L2047.0,1560.2 L2048.5,1560.2 L2050.0,1560.3 L2051.5,1560.3 L2053.0,1560.3 L2054.5,1560.3 L2056.0,1560.4 L2057.5,1560.4 L2059.0,1560.4 L2060.5,1560.4 L2062.0,1560.5 L2063.5,1560.5 L2065.0,1560.5 L2066.5,1560.5 L2068.0,1560.6 L2069.5,1560.6 L2071.0,1560.6 L2072.5,1560.6 L2074.0,1560.7 L2075.5,1560.7 L2077.0,1560.7 L2078.5,1560.7 L2080.0,1560.8 L2081.5,1560.8 L2083.0,1560.8 L2084.5,1560.9 L2086.0,1560.9 L2087.5,1560.9 L2089.0,1560.9 L2090.5,1561.0 L2092.0,1561.0 L2093.5,1561.0 L2095.0,1561.1 L2096.5,1561.1 L2098.0,1561.1 L2099.5,1561.2 L2101.0,1561.2 L2102.5,1561.2 L2104.0,1561.3 L2105.5,1561.3 L2107.0,1561.3 L2108.5,1561.3 L2110.0,1561.4 L2111.5,1561.4 L2113.0,1561.4 L2114.5,1561.5 L2116.0,1561.5 L2117.5,1561.6 L2119.0,1561.6 L2120.5,1561.6 L2122.0,1561.7 L2123.5,1561.7 L2125.0,1561.7 L2126.5,1561.8 L2128.0,1561.8 L2129.5,1561.8 L2131.0,1561.9 L2132.5,1561.9 L2134.0,1561.9 L2135.5,1562.0 L2137.0,1562.0 L2138.5,1562.1 L2140.0,1562.1 L2141.5,1562.1 L2143.0,1562.2 L2144.5,1562.2 L2146.0,1562.3 L2147.5,1562.3 L2149.0,1562.3 L2150.5,1562.4 L2152.0,1562.4" fill="none" stroke="#3b2c85" stroke-width="4.1" stroke-linejoin="round" stroke-linecap="butt"/>
<path d="M283.5,725.0 L283.7,723.5 L284.0,722.0 L284.2,720.5 L284.4,719.0 L284.7,717.5 L284.9,716.1 L285.2,714.6 L285.4,713.1 L285.7,711.6 L286.0,710.1 L286.3,708.7 L286.6,707.2 L286.9,705.7 L287.2,704.3 L287.5,702.8 L287.9,701.3 L288.2,699.9 L288.6,698.4 L288.9,697.0 L289.3,695.5 L289.6,694.1 L290.0,692.6 L290.4,691.2 L290.8,689.7 L291.1,688.3 L291.5,686.9 L291.9,685.4 L292.3,684.0 L292.7,682.5 L293.2,681.1 L293.6,679.7 L294.0,678.2 L294.4,676.8 L294.9,675.4 L295.3,673.9 L295.7,672.5 L296.2,671.1 L296.6,669.6 L297.1,668.2 L297.5,666.8 L298.0,665.4 L298.5,663.9 L298.9,662.5 L299.4,661.1 L299.9,659.7 L300.3,658.2 L300.8,656.8 L301.3,655.4 L301.8,654.0 L302.2,652.5 L302.7,651.1 L303.2,649.7 L303.7,648.3 L304.2,646.8 L304.7,645.4 L305.2,644.0 L305.8,642.6 L306.3,641.2 L306.8,639.8 L307.4,638.4 L307.9,637.0 L308.5,635.6 L309.1,634.2 L309.7,632.8 L310.3,631.5 L311.0,630.1 L311.6,628.8 L312.3,627.4 L313.0,626.1 L313.7,624.8 L314.4,623.5 L315.1,622.1 L315.9,620.9 L316.7,619.6 L317.5,618.3 L318.3,617.0 L319.2,615.8 L320.1,614.6 L321.0,613.4 L321.9,612.2 L322.9,611.0 L323.9,609.8 L324.9,608.7 L325.9,607.6 L327.0,606.6 L328.1,605.6 L329.3,604.7 L330.5,603.8 L331.7,603.0 L332.9,602.3 L334.2,601.7 L335.5,601.2 L336.9,600.7 L338.3,600.4 L339.7,600.2 L341.2,600.0 L342.7,600.0 L344.2,600.1 L345.8,600.3 L347.4,600.6 L349.0,601.0 L350.6,601.4 L352.1,601.9 L353.7,602.3 L355.2,602.8 L356.7,603.4 L358.2,603.9 L359.6,604.4 L361.0,605.0 L362.4,605.5 L363.8,606.1 L365.2,606.7 L366.5,607.3 L367.9,607.8 L369.2,608.4 L370.5,609.0 L371.8,609.6 L373.2,610.2 L374.5,610.7 L375.8,611.3 L377.1,611.9 L378.4,612.4 L379.7,613.0 L381.0,613.5 L382.3,614.0 L383.6,614.5 L385.0,615.0 L386.3,615.5 L387.7,615.9 L389.1,616.3 L390.5,616.7 L391.9,617.1 L393.4,617.4 L394.8,617.8 L396.3,618.1 L397.8,618.3 L399.4,618.6 L400.9,618.8 L402.4,619.0 L404.0,619.2 L405.6,619.3 L407.1,619.4 L408.7,619.5 L410.3,619.5 L411.9,619.6 L413.5,619.5 L415.1,619.5 L416.7,619.4 L418.3,619.3 L419.9,619.2 L421.4,619.0 L423.0,618.8 L424.6,618.6 L426.1,618.4 L427.7,618.1 L429.2,617.7 L430.7,617.4 L432.2,617.0 L433.7,616.6 L435.1,616.1 L436.5,615.6 L438.0,615.1 L439.3,614.5 L440.7,614.0 L442.0,613.3 L443.3,612.7 L444.6,611.9 L445.8,611.2 L447.1,610.4 L448.2,609.6 L449.4,608.8 L450.5,607.9 L451.5,607.0 L452.5,606.0 L453.5,605.0 L454.4,603.9 L455.3,602.9 L456.1,601.7 L456.9,600.6 L457.6,599.4 L458.3,598.1 L459.0,596.9 L459.5,595.5 L460.1,594.2 L460.5,592.8 L461.0,591.4 L461.4,589.9 L461.8,588.5 L462.2,587.0 L462.5,585.5 L462.8,583.9 L463.1,582.4 L463.4,580.9 L463.7,579.3 L464.0,577.7 L464.3,576.2 L464.5,574.6 L464.8,573.1 L465.2,571.5 L465.5,570.0 L465.8,568.4 L466.2,566.9 L466.6,565.4 L467.1,563.9 L467.5,562.5 L468.1,561.0 L468.6,559.6 L469.2,558.3 L469.9,556.9 L470.6,555.6 L471.4,554.4 L472.2,553.2 L473.1,552.0 L474.0,550.9 L475.0,549.9 L476.1,548.9 L477.1,548.0 L478.2,547.2 L479.4,546.5 L480.6,545.9 L481.8,545.4 L483.1,544.9 L484.4,544.6 L485.7,544.4 L487.1,544.3 L488.5,544.3 L489.9,544.5 L491.4,544.8 L492.8,545.2 L494.3,545.8 L495.7,546.4 L497.2,547.1 L498.6,547.9 L500.0,548.8 L501.4,549.8 L502.7,550.8 L503.9,551.9 L505.1,553.0 L506.2,554.2 L507.3,555.3 L508.2,556.5 L509.0,557.7 L509.9,558.9 L510.7,560.0 L511.5,561.1 L512.4,562.1 L513.4,563.0 L514.6,563.8 L515.9,564.4 L517.3,564.9 L518.8,565.3 L520.4,565.6 L522.0,565.7 L523.6,565.6 L525.2,565.4 L526.7,565.1 L528.2,564.6 L529.5,563.9 L530.7,563.1 L531.8,562.1 L532.7,561.0 L533.5,559.8 L534.2,558.4 L534.7,557.0 L535.2,555.5 L535.7,554.0 L536.1,552.5 L536.5,551.0 L536.9,549.5 L537.2,548.0 L537.5,546.5 L537.8,545.0 L538.1,543.5 L538.4,542.1 L538.7,540.6 L538.9,539.1 L539.2,537.6 L539.5,536.2 L539.7,534.7 L540.0,533.3 L540.2,531.8 L540.5,530.4 L540.7,528.9 L541.0,527.5 L541.3,526.0 L541.5,524.6 L541.8,523.1 L542.2,521.7 L542.5,520.2 L542.9,518.8 L543.2,517.4 L543.6,515.9 L544.0,514.5 L544.5,513.1 L545.0,511.6 L545.5,510.2 L546.0,508.8 L546.6,507.3 L547.2,505.9 L547.9,504.4 L548.6,503.0 L549.3,501.6 L550.1,500.2 L550.9,498.8 L551.7,497.4 L552.6,496.1 L553.5,494.8 L554.5,493.5 L555.4,492.4 L556.4,491.2 L557.5,490.2 L558.5,489.3 L559.6,488.4 L560.7,487.6 L561.8,487.0 L563.0,486.5 L564.2,486.0 L565.3,485.8 L566.5,485.6 L567.8,485.6 L569.0,485.8 L570.2,486.1 L571.5,486.5 L572.8,487.1 L574.0,487.8 L575.3,488.6 L576.6,489.4 L577.9,490.4 L579.3,491.4 L580.6,492.4 L581.9,493.5 L583.2,494.6 L584.6,495.7 L585.9,496.9 L587.3,497.9 L588.6,499.0 L590.0,500.0 L591.4,501.0 L592.7,501.9 L594.1,502.7 L595.5,503.4 L596.8,504.0 L598.2,504.4 L599.6,504.8 L600.9,505.0 L602.2,505.1 L603.5,505.0 L604.7,504.8 L605.8,504.5 L606.9,504.0 L607.9,503.4 L608.8,502.6 L609.7,501.6 L610.4,500.5 L611.1,499.2 L611.6,497.9 L612.2,496.5 L612.7,495.0 L613.1,493.5 L613.6,491.9 L614.0,490.3 L614.4,488.8 L614.8,487.2 L615.2,485.7 L615.6,484.2 L615.9,482.6 L616.3,481.1 L616.7,479.6 L617.0,478.1 L617.4,476.5 L617.7,475.0 L618.1,473.5 L618.4,472.0 L618.7,470.5 L619.0,469.0 L619.3,467.5 L619.7,466.0 L620.0,464.6 L620.2,463.1 L620.5,461.6 L620.8,460.1 L621.1,458.6 L621.4,457.2 L621.6,455.7 L621.9,454.2 L622.2,452.8 L622.4,451.3 L622.7,449.8 L622.9,448.4 L623.2,446.9 L623.4,445.4 L623.6,444.0 L623.9,442.5 L624.1,441.1 L624.3,439.6 L624.5,438.2 L624.7,436.7 L625.0,435.2 L625.2,433.8 L625.4,432.3 L625.6,430.9 L625.8,429.4 L626.0,427.9 L626.2,426.5 L626.4,425.0 L626.6,423.6 L626.8,422.1 L627.0,420.6 L627.2,419.1 L627.4,417.7 L627.6,416.2 L627.8,414.7 L628.0,413.2 L628.2,411.8 L628.4,410.3 L628.6,408.8 L628.7,407.3 L628.9,405.8 L629.1,404.3 L629.3,402.9 L629.5,401.4 L629.7,399.9 L629.9,398.4 L630.1,396.9 L630.3,395.4 L630.5,393.9 L630.7,392.4 L630.9,390.9 L631.1,389.4 L631.3,387.9 L631.5,386.4 L631.7,384.9 L631.9,383.4 L632.1,381.9 L632.3,380.4 L632.5,378.9 L632.7,377.4 L632.9,375.9 L633.1,374.4 L633.3,372.9 L633.5,371.4 L633.8,370.0 L634.0,368.5 L634.2,367.0 L634.4,365.5 L634.7,364.0 L634.9,362.5 L635.1,361.0 L635.4,359.5 L635.6,358.0 L635.8,356.6 L636.1,355.1 L636.3,353.6 L636.6,352.1 L636.8,350.6 L637.1,349.2 L637.4,347.7 L637.6,346.2 L637.9,344.7 L638.1,343.3 L638.4,341.8 L638.7,340.3 L639.0,338.8 L639.2,337.4 L639.5,335.9 L639.8,334.4 L640.1,333.0 L640.4,331.5 L640.7,330.0 L641.0,328.6 L641.3,327.1 L641.6,325.6 L641.9,324.2 L642.2,322.7 L642.5,321.2 L642.8,319.8 L643.1,318.3 L643.4,316.9 L643.8,315.4 L644.1,313.9 L644.4,312.5 L644.7,311.0 L645.1,309.6 L645.4,308.1 L645.7,306.7 L646.1,305.2 L646.4,303.7 L646.7,302.3 L647.1,300.8 L647.4,299.4 L647.8,297.9 L648.1,296.5 L648.5,295.0 L648.8,293.6 L649.2,292.1 L649.6,290.6 L649.9,289.2 L650.3,287.7 L650.7,286.3 L651.0,284.8 L651.4,283.4 L651.8,281.9 L652.2,280.5 L652.6,279.0 L652.9,277.6 L653.3,276.1 L653.7,274.6 L654.1,273.2 L654.5,271.7 L654.9,270.3 L655.3,268.8 L655.7,267.4 L656.1,265.9 L656.5,264.5 L657.0,263.0 L657.4,261.6 L657.8,260.2 L658.3,258.7 L658.7,257.3 L659.2,255.8 L659.6,254.4 L660.1,253.0 L660.6,251.6 L661.1,250.2 L661.6,248.8 L662.1,247.3 L662.6,245.9 L663.1,244.5 L663.6,243.2 L664.2,241.8 L664.7,240.4 L665.3,239.0 L665.9,237.7 L666.5,236.3 L667.1,235.0 L667.7,233.6 L668.3,232.3 L669.0,230.9 L669.7,229.6 L670.4,228.3 L671.2,227.0 L672.0,225.7 L672.9,224.4 L673.8,223.1 L674.8,221.8 L675.8,220.6 L676.9,219.4 L678.0,218.3 L679.2,217.3 L680.4,216.4 L681.7,215.6 L682.9,215.0 L684.3,214.6 L685.6,214.3 L687.0,214.3 L688.4,214.5 L689.8,215.0 L691.2,215.6 L692.6,216.3 L694.0,217.2 L695.3,218.0 L696.6,218.9 L697.8,219.9 L699.0,220.8 L700.1,221.8 L701.2,222.9 L702.2,223.9 L703.2,225.0 L704.2,226.1 L705.1,227.3 L706.0,228.4 L706.9,229.6 L707.7,230.8 L708.5,232.1 L709.2,233.3 L710.0,234.6 L710.7,235.9 L711.3,237.2 L712.0,238.5 L712.6,239.9 L713.2,241.2 L713.8,242.6 L714.3,244.0 L714.9,245.4 L715.4,246.8 L715.9,248.2 L716.4,249.6 L716.9,251.1 L717.3,252.5 L717.8,254.0 L718.2,255.4 L718.7,256.9 L719.1,258.3 L719.5,259.8 L720.0,261.2 L720.4,262.7 L720.8,264.1 L721.2,265.6 L721.6,267.1 L722.0,268.5 L722.4,270.0 L722.7,271.4 L723.1,272.9 L723.5,274.4 L723.9,275.8 L724.2,277.3 L724.6,278.7 L725.0,280.2 L725.3,281.7 L725.7,283.1 L726.0,284.6 L726.3,286.1 L726.7,287.5 L727.0,289.0 L727.3,290.5 L727.7,291.9 L728.0,293.4 L728.3,294.9 L728.6,296.4 L728.9,297.8 L729.2,299.3 L729.5,300.8 L729.8,302.2 L730.1,303.7 L730.4,305.2 L730.7,306.7 L730.9,308.1 L731.2,309.6 L731.5,311.1 L731.8,312.6 L732.0,314.0 L732.3,315.5 L732.6,317.0 L732.8,318.5 L733.1,319.9 L733.3,321.4 L733.6,322.9 L733.8,324.4 L734.1,325.9 L734.3,327.3 L734.5,328.8 L734.8,330.3 L735.0,331.8 L735.2,333.3 L735.4,334.7 L735.7,336.2 L735.9,337.7 L736.1,339.2 L736.3,340.7 L736.5,342.2 L736.7,343.6 L736.9,345.1 L737.1,346.6 L737.3,348.1 L737.5,349.6 L737.7,351.1 L737.9,352.6 L738.1,354.0 L738.3,355.5 L738.5,357.0 L738.7,358.5 L738.8,360.0 L739.0,361.5 L739.2,363.0 L739.4,364.5 L739.6,365.9 L739.7,367.4 L739.9,368.9 L740.1,370.4 L740.2,371.9 L740.4,373.4 L740.6,374.9 L740.7,376.4 L740.9,377.9 L741.1,379.3 L741.2,380.8 L741.4,382.3 L741.5,383.8 L741.7,385.3 L741.8,386.8 L742.0,388.3 L742.1,389.8 L742.3,391.3 L742.4,392.8 L742.6,394.2 L742.7,395.7 L742.9,397.2 L743.0,398.7 L743.2,400.2 L743.3,401.7 L743.4,403.2 L743.6,404.7 L743.7,406.2 L743.9,407.7 L744.0,409.2 L744.1,410.7 L744.3,412.2 L744.4,413.6 L744.6,415.1 L744.7,416.6 L744.8,418.1 L745.0,419.6 L745.1,421.1 L745.2,422.6 L745.4,424.1 L745.5,425.6 L745.6,427.1 L745.8,428.6 L745.9,430.1 L746.0,431.6 L746.2,433.1 L746.3,434.6 L746.4,436.0 L746.6,437.5 L746.7,439.0 L746.9,440.5 L747.0,442.0 L747.1,443.5 L747.3,445.0 L747.4,446.5 L747.5,448.0 L747.7,449.5 L747.8,451.0 L747.9,452.5 L748.1,454.0 L748.2,455.5 L748.3,456.9 L748.5,458.4 L748.6,459.9 L748.7,461.4 L748.9,462.9 L749.0,464.4 L749.1,465.9 L749.3,467.4 L749.4,468.9 L749.5,470.4 L749.7,471.9 L749.8,473.4 L749.9,474.9 L750.1,476.4 L750.2,477.9 L750.3,479.3 L750.5,480.8 L750.6,482.3 L750.7,483.8 L750.9,485.3 L751.0,486.8 L751.1,488.3 L751.2,489.8 L751.4,491.3 L751.5,492.8 L751.6,494.3 L751.8,495.8 L751.9,497.3 L752.0,498.8 L752.2,500.3 L752.3,501.7 L752.4,503.2 L752.5,504.7 L752.7,506.2 L752.8,507.7 L752.9,509.2 L753.1,510.7 L753.2,512.2 L753.3,513.7 L753.4,515.2 L753.6,516.7 L753.7,518.2 L753.8,519.7 L753.9,521.2 L754.1,522.7 L754.2,524.2 L754.3,525.6 L754.4,527.1 L754.6,528.6 L754.7,530.1 L754.8,531.6 L754.9,533.1 L755.1,534.6 L755.2,536.1 L755.3,537.6 L755.4,539.1 L755.6,540.6 L755.7,542.1 L755.8,543.6 L755.9,545.1 L756.1,546.6 L756.2,548.1 L756.3,549.6 L756.4,551.1 L756.5,552.5 L756.7,554.0 L756.8,555.5 L756.9,557.0 L757.0,558.5 L757.1,560.0 L757.3,561.5 L757.4,563.0 L757.5,564.5 L757.6,566.0 L757.7,567.5 L757.8,569.0 L758.0,570.5 L758.1,572.0 L758.2,573.5 L758.3,575.0 L758.4,576.5 L758.5,578.0 L758.7,579.5 L758.8,580.9 L758.9,582.4 L759.0,583.9 L759.1,585.4 L759.2,586.9 L759.3,588.4 L759.4,589.9 L759.6,591.4 L759.7,592.9 L759.8,594.4 L759.9,595.9 L760.0,597.4 L760.1,598.9 L760.2,600.4 L760.3,601.9 L760.4,603.4 L760.6,604.9 L760.7,606.4 L760.8,607.9 L760.9,609.4 L761.0,610.9 L761.1,612.4 L761.2,613.8 L761.3,615.3 L761.4,616.8 L761.5,618.3 L761.6,619.8 L761.7,621.3 L761.8,622.8 L761.9,624.3 L762.0,625.8 L762.1,627.3 L762.2,628.8 L762.3,630.3 L762.4,631.8 L762.5,633.3 L762.6,634.8 L762.7,636.3 L762.8,637.8 L762.9,639.3 L763.0,640.8 L763.1,642.3 L763.2,643.8 L763.3,645.3 L763.4,646.8 L763.5,648.3 L763.6,649.8 L763.7,651.3 L763.8,652.8 L763.9,654.3 L764.0,655.8 L764.1,657.2 L764.2,658.7 L764.3,660.2 L764.4,661.7 L764.5,663.2 L764.6,664.7 L764.6,666.2 L764.7,667.7 L764.8,669.2 L764.9,670.7 L765.0,672.2 L765.1,673.7 L765.2,675.2 L765.3,676.7 L765.4,678.2 L765.5,679.7 L765.6,681.2 L765.6,682.7 L765.7,684.2 L765.8,685.7 L765.9,687.2 L766.0,688.7 L766.1,690.2 L766.2,691.7 L766.3,693.2 L766.4,694.7 L766.4,696.2 L766.5,697.7 L766.6,699.2 L766.7,700.7 L766.8,702.2 L766.9,703.7 L767.0,705.2 L767.0,706.7 L767.1,708.2 L767.2,709.7 L767.3,711.2 L767.4,712.7 L767.5,714.2 L767.6,715.7 L767.6,717.2 L767.7,718.7 L767.8,720.1 L767.9,721.6 L768.0,723.1 L768.1,724.6 L768.2,726.1 L768.2,727.6 L768.3,729.1 L768.4,730.6 L768.5,732.1 L768.6,733.6 L768.7,735.1 L768.7,736.6 L768.8,738.1 L768.9,739.6 L769.0,741.1 L769.1,742.6 L769.2,744.1 L769.2,745.6 L769.3,747.1 L769.4,748.6 L769.5,750.1 L769.6,751.6 L769.7,753.1 L769.7,754.6 L769.8,756.1 L769.9,757.6 L770.0,759.1 L770.1,760.6 L770.2,762.1 L770.2,763.6 L770.3,765.1 L770.4,766.6 L770.5,768.1 L770.6,769.6 L770.7,771.1 L770.8,772.6 L770.8,774.1 L770.9,775.6 L771.0,777.1 L771.1,778.6 L771.2,780.1 L771.3,781.6 L771.3,783.1 L771.4,784.6 L771.5,786.1 L771.6,787.6 L771.7,789.1 L771.8,790.6 L771.9,792.1 L771.9,793.6 L772.0,795.0 L772.1,796.5 L772.2,798.0 L772.3,799.5 L772.4,801.0 L772.5,802.5 L772.5,804.0 L772.6,805.5 L772.7,807.0 L772.8,808.5 L772.9,810.0 L773.0,811.5 L773.1,813.0 L773.2,814.5 L773.2,816.0 L773.3,817.5 L773.4,819.0 L773.5,820.5 L773.6,822.0 L773.7,823.5 L773.8,825.0 L773.9,826.5 L774.0,828.0 L774.1,829.5 L774.1,831.0 L774.2,832.5 L774.3,834.0 L774.4,835.5 L774.5,837.0 L774.6,838.5 L774.7,840.0 L774.8,841.5 L774.9,843.0 L775.0,844.5 L775.1,846.0 L775.2,847.5 L775.3,849.0 L775.4,850.5 L775.4,851.9 L775.5,853.4 L775.6,854.9 L775.7,856.4 L775.8,857.9 L775.9,859.4 L776.0,860.9 L776.1,862.4 L776.2,863.9 L776.3,865.4 L776.4,866.9 L776.5,868.4 L776.6,869.9 L776.7,871.4 L776.8,872.9 L776.9,874.4 L777.0,875.9 L777.1,877.4 L777.2,878.9 L777.3,880.4 L777.4,881.9 L777.5,883.4 L777.6,884.9 L777.7,886.4 L777.9,887.9 L778.0,889.4 L778.1,890.9 L778.2,892.3 L778.3,893.8 L778.4,895.3 L778.5,896.8 L778.6,898.3 L778.7,899.8 L778.8,901.3 L778.9,902.8 L779.0,904.3 L779.2,905.8 L779.3,907.3 L779.4,908.8 L779.5,910.3 L779.6,911.8 L779.7,913.3 L779.8,914.8 L780.0,916.3 L780.1,917.8 L780.2,919.3 L780.3,920.8 L780.4,922.2 L780.5,923.7 L780.7,925.2 L780.8,926.7 L780.9,928.2 L781.0,929.7 L781.1,931.2 L781.3,932.7 L781.4,934.2 L781.5,935.7 L781.6,937.2 L781.8,938.7 L781.9,940.2 L782.0,941.7 L782.1,943.2 L782.3,944.7 L782.4,946.1 L782.5,947.6 L782.6,949.1 L782.8,950.6 L782.9,952.1 L783.0,953.6 L783.2,955.1 L783.3,956.6 L783.4,958.1 L783.6,959.6 L783.7,961.1 L783.8,962.6 L784.0,964.1 L784.1,965.6 L784.2,967.0 L784.4,968.5 L784.5,970.0 L784.7,971.5 L784.8,973.0 L785.0,974.5 L785.1,976.0 L785.2,977.5 L785.4,979.0 L785.5,980.5 L785.7,982.0 L785.8,983.5 L786.0,984.9 L786.1,986.4 L786.3,987.9 L786.4,989.4 L786.6,990.9 L786.7,992.4 L786.9,993.9 L787.0,995.4 L787.2,996.9 L787.3,998.4 L787.5,999.9 L787.6,1001.3 L787.8,1002.8 L788.0,1004.3 L788.1,1005.8 L788.3,1007.3 L788.4,1008.8 L788.6,1010.3 L788.8,1011.8 L788.9,1013.3 L789.1,1014.7 L789.3,1016.2 L789.4,1017.7 L789.6,1019.2 L789.8,1020.7 L789.9,1022.2 L790.1,1023.7 L790.3,1025.2 L790.4,1026.7 L790.6,1028.1 L790.8,1029.6 L791.0,1031.1 L791.1,1032.6 L791.3,1034.1 L791.5,1035.6 L791.7,1037.1 L791.9,1038.6 L792.0,1040.1 L792.2,1041.5 L792.4,1043.0 L792.6,1044.5 L792.8,1046.0 L793.0,1047.5 L793.2,1049.0 L793.3,1050.5 L793.5,1051.9 L793.7,1053.4 L793.9,1054.9 L794.1,1056.4 L794.3,1057.9 L794.5,1059.4 L794.7,1060.9 L794.9,1062.4 L795.1,1063.8 L795.3,1065.3 L795.5,1066.8 L795.7,1068.3 L795.9,1069.8 L796.1,1071.3 L796.3,1072.8 L796.5,1074.2 L796.7,1075.7 L796.9,1077.2 L797.1,1078.7 L797.3,1080.2 L797.6,1081.7 L797.8,1083.1 L798.0,1084.6 L798.2,1086.1 L798.4,1087.6 L798.6,1089.1 L798.9,1090.6 L799.1,1092.0 L799.3,1093.5 L799.5,1095.0 L799.7,1096.5 L800.0,1098.0 L800.2,1099.5 L800.4,1100.9 L800.7,1102.4 L800.9,1103.9 L801.1,1105.4 L801.3,1106.9 L801.6,1108.4 L801.8,1109.8 L802.1,1111.3 L802.3,1112.8 L802.6,1114.3 L802.8,1115.8 L803.0,1117.2 L803.3,1118.7 L803.6,1120.2 L803.8,1121.7 L804.1,1123.1 L804.3,1124.6 L804.6,1126.1 L804.9,1127.6 L805.1,1129.0 L805.4,1130.5 L805.7,1132.0 L806.0,1133.5 L806.2,1134.9 L806.5,1136.4 L806.8,1137.9 L807.1,1139.4 L807.4,1140.8 L807.7,1142.3 L808.0,1143.8 L808.3,1145.2 L808.6,1146.7 L808.9,1148.2 L809.2,1149.6 L809.6,1151.1 L809.9,1152.5 L810.2,1154.0 L810.6,1155.5 L810.9,1156.9 L811.2,1158.4 L811.6,1159.8 L811.9,1161.3 L812.3,1162.7 L812.7,1164.2 L813.0,1165.7 L813.4,1167.1 L813.8,1168.6 L814.2,1170.0 L814.5,1171.5 L814.9,1172.9 L815.3,1174.3 L815.7,1175.8 L816.1,1177.2 L816.6,1178.7 L817.0,1180.1 L817.4,1181.5 L817.9,1183.0 L818.3,1184.4 L818.8,1185.8 L819.2,1187.2 L819.7,1188.7 L820.2,1190.1 L820.7,1191.5 L821.2,1192.9 L821.7,1194.3 L822.3,1195.7 L822.8,1197.1 L823.4,1198.5 L824.0,1199.8 L824.6,1201.2 L825.2,1202.6 L825.8,1203.9 L826.5,1205.3 L827.1,1206.6 L827.8,1208.0 L828.5,1209.3 L829.3,1210.6 L830.0,1211.9 L830.8,1213.2 L831.5,1214.5 L832.3,1215.8 L833.2,1217.1 L834.0,1218.4 L834.9,1219.6 L835.8,1220.9 L836.7,1222.1 L837.7,1223.4 L838.6,1224.6 L839.6,1225.8 L840.6,1227.0 L841.7,1228.1 L842.8,1229.3 L843.8,1230.4 L845.0,1231.4 L846.1,1232.5 L847.3,1233.4 L848.4,1234.3 L849.6,1235.2 L850.8,1235.9 L852.1,1236.6 L853.3,1237.3 L854.6,1237.8 L855.9,1238.3 L857.2,1238.6 L858.5,1238.9 L859.9,1239.0 L861.2,1239.1 L862.6,1239.0 L864.0,1238.8 L865.4,1238.5 L866.8,1238.1 L868.2,1237.5 L869.7,1236.8 L871.1,1236.0 L872.5,1235.0 L873.9,1234.0 L875.2,1232.8 L876.4,1231.6 L877.5,1230.4 L878.6,1229.2 L879.7,1228.0 L880.7,1226.9 L881.7,1225.9 L882.8,1225.2 L884.0,1224.7 L885.3,1224.5 L886.6,1224.4 L887.9,1224.7 L889.2,1225.1 L890.5,1225.7 L891.8,1226.5 L893.0,1227.4 L894.2,1228.5 L895.2,1229.6 L896.1,1230.9 L896.9,1232.2 L897.5,1233.6 L898.2,1235.1 L898.8,1236.5 L899.4,1237.9 L900.1,1239.3 L900.9,1240.6 L901.8,1241.9 L902.9,1243.0 L904.0,1244.1 L905.3,1245.0 L906.6,1245.8 L908.0,1246.4 L909.4,1246.8 L910.8,1247.1 L912.2,1247.2 L913.6,1247.1 L915.0,1246.7 L916.3,1246.2 L917.5,1245.3 L918.6,1244.3 L919.6,1243.2 L920.6,1241.9 L921.5,1240.6 L922.3,1239.2 L923.0,1237.9 L923.8,1236.5 L924.4,1235.2 L925.0,1233.8 L925.6,1232.5 L926.2,1231.1 L926.7,1229.8 L927.2,1228.4 L927.7,1227.0 L928.1,1225.6 L928.6,1224.2 L929.0,1222.8 L929.5,1221.3 L929.9,1219.9 L930.4,1218.4 L930.8,1216.9 L931.4,1215.4 L931.9,1213.8 L932.5,1212.3 L933.2,1210.9 L933.9,1209.5 L934.8,1208.2 L935.9,1207.1 L937.1,1206.1 L938.4,1205.3 L939.7,1204.7 L941.2,1204.2 L942.6,1204.0 L944.1,1203.9 L945.4,1204.0 L946.7,1204.4 L947.8,1204.9 L948.8,1205.7 L949.6,1206.7 L950.2,1207.8 L950.7,1209.1 L951.1,1210.5 L951.5,1212.0 L951.8,1213.5 L952.0,1215.0 L952.3,1216.5 L952.6,1218.1 L952.9,1219.6 L953.1,1221.1 L953.4,1222.6 L953.6,1224.1 L953.9,1225.7 L954.2,1227.2 L954.4,1228.7 L954.6,1230.2 L954.9,1231.7 L955.1,1233.2 L955.3,1234.7 L955.6,1236.2 L955.8,1237.8 L956.0,1239.3 L956.2,1240.8 L956.5,1242.3 L956.7,1243.8 L956.9,1245.3 L957.1,1246.8 L957.3,1248.3 L957.5,1249.8 L957.7,1251.3 L957.9,1252.8 L958.1,1254.3 L958.3,1255.8 L958.5,1257.3 L958.7,1258.8 L958.8,1260.3 L959.0,1261.8 L959.2,1263.3 L959.4,1264.8 L959.6,1266.3 L959.7,1267.8 L959.9,1269.3 L960.1,1270.8 L960.3,1272.2 L960.4,1273.7 L960.6,1275.2 L960.8,1276.7 L961.0,1278.2 L961.1,1279.7 L961.3,1281.2 L961.5,1282.7 L961.6,1284.2 L961.8,1285.6 L962.0,1287.1 L962.1,1288.6 L962.3,1290.1 L962.4,1291.6 L962.6,1293.1 L962.8,1294.6 L962.9,1296.0 L963.1,1297.5 L963.3,1299.0 L963.4,1300.5 L963.6,1302.0 L963.8,1303.4 L963.9,1304.9 L964.1,1306.4 L964.3,1307.9 L964.4,1309.4 L964.6,1310.9 L964.8,1312.3 L965.0,1313.8 L965.1,1315.3 L965.3,1316.8 L965.5,1318.2 L965.7,1319.7 L965.8,1321.2 L966.0,1322.7 L966.2,1324.2 L966.4,1325.6 L966.6,1327.1 L966.8,1328.6 L967.0,1330.1 L967.1,1331.6 L967.3,1333.0 L967.5,1334.5 L967.7,1336.0 L967.9,1337.5 L968.1,1338.9 L968.4,1340.4 L968.6,1341.9 L968.8,1343.4 L969.0,1344.9 L969.2,1346.3 L969.4,1347.8 L969.7,1349.3 L969.9,1350.8 L970.1,1352.3 L970.4,1353.7 L970.6,1355.2 L970.8,1356.7 L971.1,1358.2 L971.3,1359.6 L971.6,1361.1 L971.9,1362.6 L972.1,1364.1 L972.4,1365.6 L972.7,1367.0 L972.9,1368.5 L973.2,1370.0 L973.5,1371.5 L973.8,1373.0 L974.1,1374.4 L974.4,1375.9 L974.7,1377.4 L975.1,1378.8 L975.4,1380.3 L975.7,1381.8 L976.1,1383.2 L976.4,1384.7 L976.8,1386.2 L977.2,1387.6 L977.5,1389.1 L977.9,1390.5 L978.3,1392.0 L978.7,1393.4 L979.1,1394.9 L979.6,1396.3 L980.0,1397.8 L980.4,1399.2 L980.9,1400.6 L981.4,1402.1 L981.8,1403.5 L982.3,1404.9 L982.8,1406.3 L983.3,1407.8 L983.9,1409.2 L984.4,1410.6 L985.0,1412.0 L985.5,1413.4 L986.1,1414.8 L986.7,1416.2 L987.3,1417.6 L987.9,1418.9 L988.5,1420.3 L989.2,1421.7 L989.8,1423.0 L990.5,1424.4 L991.2,1425.8 L991.9,1427.1 L992.6,1428.5 L993.4,1429.8 L994.1,1431.1 L994.9,1432.4 L995.7,1433.7 L996.5,1435.0 L997.4,1436.2 L998.3,1437.4 L999.2,1438.6 L1000.1,1439.7 L1001.1,1440.8 L1002.1,1441.9 L1003.1,1442.9 L1004.2,1443.9 L1005.3,1444.8 L1006.5,1445.6 L1007.7,1446.5 L1008.9,1447.2 L1010.2,1447.9 L1011.6,1448.5 L1012.9,1449.0 L1014.4,1449.5 L1015.8,1449.9 L1017.3,1450.2 L1018.9,1450.5 L1020.4,1450.6 L1021.9,1450.7 L1023.5,1450.7 L1025.0,1450.6 L1026.5,1450.4 L1028.0,1450.2 L1029.5,1449.8 L1030.9,1449.4 L1032.3,1448.8 L1033.6,1448.2 L1034.9,1447.5 L1036.1,1446.6 L1037.3,1445.7 L1038.4,1444.7 L1039.5,1443.7 L1040.5,1442.6 L1041.5,1441.5 L1042.5,1440.3 L1043.5,1439.1 L1044.4,1437.9 L1045.3,1436.7 L1046.2,1435.5 L1047.1,1434.3 L1048.0,1433.1 L1048.8,1431.8 L1049.6,1430.6 L1050.4,1429.3 L1051.2,1428.1 L1052.0,1426.8 L1052.7,1425.5 L1053.5,1424.2 L1054.2,1422.9 L1054.9,1421.6 L1055.6,1420.3 L1056.3,1418.9 L1057.0,1417.6 L1057.7,1416.3 L1058.3,1414.9 L1059.0,1413.6 L1059.6,1412.2 L1060.2,1410.9 L1060.8,1409.5 L1061.4,1408.1 L1062.0,1406.7 L1062.6,1405.4 L1063.2,1404.0 L1063.7,1402.6 L1064.3,1401.2 L1064.8,1399.8 L1065.4,1398.4 L1065.9,1397.0 L1066.5,1395.6 L1067.0,1394.2 L1067.5,1392.8 L1068.0,1391.4 L1068.6,1390.0 L1069.1,1388.6 L1069.6,1387.2 L1070.1,1385.7 L1070.6,1384.3 L1071.1,1382.9 L1071.6,1381.5 L1072.1,1380.1 L1072.6,1378.7 L1073.1,1377.3 L1073.6,1375.8 L1074.1,1374.4 L1074.6,1373.0 L1075.1,1371.6 L1075.6,1370.2 L1076.1,1368.7 L1076.6,1367.3 L1077.0,1365.9 L1077.5,1364.5 L1078.0,1363.1 L1078.5,1361.6 L1078.9,1360.2 L1079.4,1358.8 L1079.9,1357.4 L1080.3,1355.9 L1080.8,1354.5 L1081.3,1353.1 L1081.7,1351.7 L1082.2,1350.2 L1082.6,1348.8 L1083.1,1347.4 L1083.5,1345.9 L1084.0,1344.5 L1084.4,1343.1 L1084.9,1341.7 L1085.3,1340.2 L1085.8,1338.8 L1086.2,1337.4 L1086.6,1335.9 L1087.1,1334.5 L1087.5,1333.1 L1087.9,1331.6 L1088.4,1330.2 L1088.8,1328.8 L1089.2,1327.3 L1089.7,1325.9 L1090.1,1324.4 L1090.5,1323.0 L1090.9,1321.6 L1091.3,1320.1 L1091.8,1318.7 L1092.2,1317.2 L1092.6,1315.8 L1093.0,1314.4 L1093.4,1312.9 L1093.8,1311.5 L1094.3,1310.0 L1094.7,1308.6 L1095.1,1307.2 L1095.5,1305.7 L1095.9,1304.3 L1096.3,1302.8 L1096.7,1301.4 L1097.1,1299.9 L1097.5,1298.5 L1097.9,1297.1 L1098.3,1295.6 L1098.7,1294.2 L1099.1,1292.7 L1099.5,1291.3 L1099.9,1289.8 L1100.3,1288.4 L1100.7,1286.9 L1101.0,1285.5 L1101.4,1284.0 L1101.8,1282.6 L1102.2,1281.1 L1102.6,1279.7 L1103.0,1278.2 L1103.4,1276.8 L1103.8,1275.3 L1104.1,1273.9 L1104.5,1272.4 L1104.9,1271.0 L1105.3,1269.5 L1105.7,1268.1 L1106.0,1266.6 L1106.4,1265.2 L1106.8,1263.7 L1107.2,1262.3 L1107.6,1260.8 L1107.9,1259.4 L1108.3,1257.9 L1108.7,1256.5 L1109.1,1255.0 L1109.4,1253.6 L1109.8,1252.1 L1110.2,1250.7 L1110.6,1249.2 L1110.9,1247.8 L1111.3,1246.3 L1111.7,1244.9 L1112.1,1243.4 L1112.4,1242.0 L1112.8,1240.5 L1113.2,1239.0 L1113.6,1237.6 L1113.9,1236.1 L1114.3,1234.7 L1114.7,1233.2 L1115.0,1231.8 L1115.4,1230.3 L1115.8,1228.9 L1116.1,1227.4 L1116.5,1226.0 L1116.9,1224.5 L1117.3,1223.1 L1117.6,1221.6 L1118.0,1220.1 L1118.4,1218.7 L1118.7,1217.2 L1119.1,1215.8 L1119.5,1214.3 L1119.9,1212.9 L1120.2,1211.4 L1120.6,1210.0 L1121.0,1208.5 L1121.3,1207.1 L1121.7,1205.6 L1122.1,1204.2 L1122.5,1202.7 L1122.8,1201.2 L1123.2,1199.8 L1123.6,1198.3 L1124.0,1196.9 L1124.3,1195.4 L1124.7,1194.0 L1125.1,1192.5 L1125.5,1191.1 L1125.8,1189.6 L1126.2,1188.2 L1126.6,1186.7 L1127.0,1185.3 L1127.3,1183.8 L1127.7,1182.4 L1128.1,1180.9 L1128.5,1179.5 L1128.9,1178.0 L1129.2,1176.6 L1129.6,1175.1 L1130.0,1173.7 L1130.4,1172.2 L1130.8,1170.8 L1131.2,1169.3 L1131.5,1167.9 L1131.9,1166.4 L1132.3,1165.0 L1132.7,1163.5 L1133.1,1162.1 L1133.5,1160.6 L1133.9,1159.2 L1134.3,1157.7 L1134.7,1156.3 L1135.0,1154.8 L1135.4,1153.4 L1135.8,1151.9 L1136.2,1150.5 L1136.6,1149.0 L1137.0,1147.6 L1137.4,1146.2 L1137.8,1144.7 L1138.2,1143.3 L1138.6,1141.8 L1139.0,1140.4 L1139.5,1138.9 L1139.9,1137.5 L1140.3,1136.0 L1140.7,1134.6 L1141.1,1133.2 L1141.5,1131.7 L1141.9,1130.3 L1142.3,1128.8 L1142.7,1127.4 L1143.2,1126.0 L1143.6,1124.5 L1144.0,1123.1 L1144.4,1121.7 L1144.9,1120.2 L1145.3,1118.8 L1145.7,1117.3 L1146.1,1115.9 L1146.6,1114.5 L1147.0,1113.0 L1147.4,1111.6 L1147.9,1110.2 L1148.3,1108.7 L1148.7,1107.3 L1149.2,1105.9 L1149.6,1104.4 L1150.1,1103.0 L1150.5,1101.6 L1151.0,1100.1 L1151.4,1098.7 L1151.9,1097.3 L1152.3,1095.9 L1152.8,1094.4 L1153.2,1093.0 L1153.7,1091.6 L1154.1,1090.2 L1154.6,1088.7 L1155.1,1087.3 L1155.5,1085.9 L1156.0,1084.5 L1156.5,1083.0 L1156.9,1081.6 L1157.4,1080.2 L1157.9,1078.8 L1158.4,1077.4 L1158.9,1075.9 L1159.4,1074.5 L1159.9,1073.1 L1160.4,1071.7 L1160.9,1070.3 L1161.4,1068.9 L1161.9,1067.5 L1162.5,1066.1 L1163.0,1064.7 L1163.5,1063.3 L1164.1,1061.9 L1164.7,1060.5 L1165.2,1059.2 L1165.8,1057.8 L1166.4,1056.4 L1167.0,1055.0 L1167.6,1053.7 L1168.2,1052.3 L1168.8,1051.0 L1169.5,1049.6 L1170.1,1048.3 L1170.8,1046.9 L1171.4,1045.6 L1172.1,1044.2 L1172.8,1042.9 L1173.5,1041.6 L1174.2,1040.3 L1175.0,1039.0 L1175.7,1037.6 L1176.5,1036.4 L1177.2,1035.1 L1178.0,1033.8 L1178.8,1032.5 L1179.7,1031.2 L1180.5,1030.0 L1181.3,1028.7 L1182.2,1027.5 L1183.1,1026.3 L1184.0,1025.0 L1184.9,1023.8 L1185.9,1022.6 L1186.8,1021.5 L1187.8,1020.3 L1188.8,1019.1 L1189.8,1018.0 L1190.8,1016.9 L1191.9,1015.8 L1192.9,1014.7 L1194.0,1013.6 L1195.2,1012.6 L1196.3,1011.6 L1197.5,1010.7 L1198.7,1009.9 L1200.0,1009.3 L1201.3,1008.7 L1202.6,1008.3 L1204.0,1008.0 L1205.4,1007.9 L1206.8,1008.0 L1208.3,1008.2 L1209.8,1008.6 L1211.3,1009.1 L1212.8,1009.6 L1214.3,1010.3 L1215.8,1011.1 L1217.2,1011.9 L1218.5,1012.7 L1219.8,1013.6 L1221.1,1014.5 L1222.3,1015.4 L1223.5,1016.4 L1224.6,1017.4 L1225.6,1018.4 L1226.7,1019.5 L1227.6,1020.6 L1228.6,1021.7 L1229.5,1022.9 L1230.4,1024.0 L1231.2,1025.2 L1232.0,1026.5 L1232.8,1027.7 L1233.5,1029.0 L1234.2,1030.3 L1234.9,1031.6 L1235.5,1032.9 L1236.2,1034.2 L1236.8,1035.6 L1237.3,1037.0 L1237.9,1038.3 L1238.4,1039.7 L1239.0,1041.1 L1239.5,1042.6 L1240.0,1044.0 L1240.4,1045.4 L1240.9,1046.9 L1241.4,1048.3 L1241.8,1049.8 L1242.2,1051.2 L1242.7,1052.7 L1243.1,1054.1 L1243.5,1055.6 L1243.9,1057.0 L1244.4,1058.5 L1244.8,1060.0 L1245.2,1061.4 L1245.6,1062.9 L1246.0,1064.3 L1246.4,1065.8 L1246.8,1067.3 L1247.2,1068.7 L1247.6,1070.2 L1247.9,1071.6 L1248.3,1073.1 L1248.7,1074.6 L1249.1,1076.0 L1249.4,1077.5 L1249.8,1078.9 L1250.2,1080.4 L1250.5,1081.9 L1250.9,1083.3 L1251.2,1084.8 L1251.6,1086.2 L1251.9,1087.7 L1252.3,1089.2 L1252.6,1090.6 L1252.9,1092.1 L1253.3,1093.6 L1253.6,1095.0 L1253.9,1096.5 L1254.2,1098.0 L1254.6,1099.4 L1254.9,1100.9 L1255.2,1102.4 L1255.5,1103.8 L1255.8,1105.3 L1256.1,1106.8 L1256.4,1108.2 L1256.7,1109.7 L1257.0,1111.2 L1257.3,1112.6 L1257.6,1114.1 L1257.9,1115.6 L1258.2,1117.0 L1258.5,1118.5 L1258.7,1120.0 L1259.0,1121.4 L1259.3,1122.9 L1259.6,1124.4 L1259.8,1125.9 L1260.1,1127.3 L1260.4,1128.8 L1260.6,1130.3 L1260.9,1131.7 L1261.2,1133.2 L1261.4,1134.7 L1261.7,1136.2 L1261.9,1137.6 L1262.2,1139.1 L1262.4,1140.6 L1262.7,1142.1 L1262.9,1143.5 L1263.2,1145.0 L1263.4,1146.5 L1263.6,1148.0 L1263.9,1149.4 L1264.1,1150.9 L1264.4,1152.4 L1264.6,1153.9 L1264.8,1155.3 L1265.0,1156.8 L1265.3,1158.3 L1265.5,1159.8 L1265.7,1161.2 L1265.9,1162.7 L1266.1,1164.2 L1266.4,1165.7 L1266.6,1167.2 L1266.8,1168.6 L1267.0,1170.1 L1267.2,1171.6 L1267.4,1173.1 L1267.6,1174.6 L1267.8,1176.0 L1268.0,1177.5 L1268.2,1179.0 L1268.4,1180.5 L1268.6,1182.0 L1268.8,1183.5 L1269.0,1184.9 L1269.2,1186.4 L1269.4,1187.9 L1269.6,1189.4 L1269.8,1190.9 L1270.0,1192.4 L1270.2,1193.8 L1270.4,1195.3 L1270.6,1196.8 L1270.8,1198.3 L1270.9,1199.8 L1271.1,1201.3 L1271.3,1202.8 L1271.5,1204.2 L1271.7,1205.7 L1271.9,1207.2 L1272.0,1208.7 L1272.2,1210.2 L1272.4,1211.7 L1272.6,1213.2 L1272.7,1214.7 L1272.9,1216.2 L1273.1,1217.6 L1273.3,1219.1 L1273.5,1220.6 L1273.6,1222.1 L1273.8,1223.6 L1274.0,1225.1 L1274.1,1226.6 L1274.3,1228.1 L1274.5,1229.6 L1274.7,1231.1 L1274.8,1232.6 L1275.0,1234.1 L1275.2,1235.6 L1275.3,1237.0 L1275.5,1238.5 L1275.7,1240.0 L1275.9,1241.5 L1276.0,1243.0 L1276.2,1244.5 L1276.4,1246.0 L1276.5,1247.5 L1276.7,1249.0 L1276.9,1250.5 L1277.1,1252.0 L1277.2,1253.5 L1277.4,1255.0 L1277.6,1256.5 L1277.8,1258.0 L1277.9,1259.5 L1278.1,1261.0 L1278.3,1262.5 L1278.5,1264.0 L1278.6,1265.5 L1278.8,1266.9 L1279.0,1268.4 L1279.2,1269.9 L1279.4,1271.4 L1279.6,1272.9 L1279.7,1274.4 L1279.9,1275.9 L1280.1,1277.4 L1280.3,1278.9 L1280.5,1280.4 L1280.7,1281.9 L1280.9,1283.4 L1281.1,1284.9 L1281.3,1286.4 L1281.5,1287.9 L1281.7,1289.3 L1281.9,1290.8 L1282.1,1292.3 L1282.3,1293.8 L1282.5,1295.3 L1282.7,1296.8 L1282.9,1298.3 L1283.1,1299.8 L1283.3,1301.3 L1283.5,1302.7 L1283.8,1304.2 L1284.0,1305.7 L1284.2,1307.2 L1284.4,1308.7 L1284.7,1310.2 L1284.9,1311.7 L1285.1,1313.1 L1285.4,1314.6 L1285.6,1316.1 L1285.9,1317.6 L1286.1,1319.1 L1286.3,1320.6 L1286.6,1322.0 L1286.9,1323.5 L1287.1,1325.0 L1287.4,1326.5 L1287.6,1327.9 L1287.9,1329.4 L1288.2,1330.9 L1288.4,1332.4 L1288.7,1333.8 L1289.0,1335.3 L1289.3,1336.8 L1289.6,1338.3 L1289.9,1339.7 L1290.1,1341.2 L1290.4,1342.7 L1290.7,1344.1 L1291.0,1345.6 L1291.4,1347.1 L1291.7,1348.5 L1292.0,1350.0 L1292.3,1351.4 L1292.6,1352.9 L1293.0,1354.4 L1293.3,1355.8 L1293.6,1357.3 L1294.0,1358.7 L1294.3,1360.2 L1294.6,1361.6 L1295.0,1363.1 L1295.4,1364.5 L1295.7,1366.0 L1296.1,1367.4 L1296.5,1368.9 L1296.8,1370.3 L1297.2,1371.8 L1297.6,1373.2 L1298.0,1374.7 L1298.4,1376.1 L1298.8,1377.6 L1299.2,1379.0 L1299.6,1380.4 L1300.0,1381.9 L1300.4,1383.3 L1300.8,1384.7 L1301.3,1386.2 L1301.7,1387.6 L1302.1,1389.0 L1302.6,1390.4 L1303.0,1391.9 L1303.5,1393.3 L1304.0,1394.7 L1304.4,1396.1 L1304.9,1397.6 L1305.4,1399.0 L1305.9,1400.4 L1306.3,1401.8 L1306.8,1403.2 L1307.3,1404.6 L1307.9,1406.0 L1308.4,1407.5 L1308.9,1408.9 L1309.4,1410.3 L1309.9,1411.7 L1310.5,1413.1 L1311.0,1414.5 L1311.6,1415.9 L1312.1,1417.3 L1312.7,1418.7 L1313.3,1420.0 L1313.8,1421.4 L1314.4,1422.8 L1315.0,1424.2 L1315.6,1425.6 L1316.2,1427.0 L1316.8,1428.4 L1317.4,1429.7 L1318.0,1431.1 L1318.7,1432.5 L1319.3,1433.8 L1320.0,1435.2 L1320.6,1436.6 L1321.3,1437.9 L1321.9,1439.3 L1322.6,1440.6 L1323.3,1442.0 L1324.0,1443.3 L1324.7,1444.7 L1325.4,1446.0 L1326.1,1447.3 L1326.8,1448.7 L1327.5,1450.0 L1328.2,1451.3 L1329.0,1452.6 L1329.7,1453.9 L1330.5,1455.2 L1331.2,1456.5 L1332.0,1457.8 L1332.8,1459.1 L1333.6,1460.4 L1334.3,1461.7 L1335.1,1462.9 L1336.0,1464.2 L1336.8,1465.4 L1337.6,1466.7 L1338.4,1467.9 L1339.3,1469.2 L1340.1,1470.4 L1341.0,1471.6 L1341.8,1472.9 L1342.7,1474.1 L1343.6,1475.3 L1344.5,1476.5 L1345.4,1477.7 L1346.3,1478.9 L1347.2,1480.0 L1348.1,1481.2 L1349.1,1482.4 L1350.0,1483.5 L1351.0,1484.7 L1351.9,1485.8 L1352.9,1486.9 L1353.9,1488.1 L1354.9,1489.2 L1355.9,1490.3 L1356.9,1491.4 L1357.9,1492.5 L1358.9,1493.5 L1359.9,1494.6 L1361.0,1495.7 L1362.0,1496.7 L1363.1,1497.8 L1364.2,1498.8 L1365.3,1499.8 L1366.3,1500.8 L1367.4,1501.8 L1368.6,1502.8 L1369.7,1503.8 L1370.8,1504.8 L1371.9,1505.7 L1373.1,1506.7 L1374.3,1507.6 L1375.4,1508.6 L1376.6,1509.5 L1377.8,1510.4 L1379.0,1511.3 L1380.2,1512.2 L1381.4,1513.0 L1382.6,1513.9 L1383.9,1514.8 L1385.1,1515.6 L1386.3,1516.4 L1387.6,1517.3 L1388.9,1518.1 L1390.1,1518.9 L1391.4,1519.6 L1392.7,1520.4 L1394.0,1521.2 L1395.3,1521.9 L1396.6,1522.7 L1397.9,1523.4 L1399.3,1524.1 L1400.6,1524.8 L1401.9,1525.5 L1403.3,1526.2 L1404.6,1526.9 L1406.0,1527.5 L1407.3,1528.2 L1408.7,1528.8 L1410.1,1529.4 L1411.4,1530.1 L1412.8,1530.7 L1414.2,1531.2 L1415.6,1531.8 L1417.0,1532.4 L1418.4,1532.9 L1419.8,1533.5 L1421.2,1534.0 L1422.7,1534.5 L1424.1,1535.0 L1425.5,1535.5 L1426.9,1536.0 L1428.4,1536.4 L1429.8,1536.9 L1431.3,1537.3 L1432.7,1537.8 L1434.1,1538.2 L1435.6,1538.6 L1437.1,1539.0 L1438.5,1539.3 L1440.0,1539.7 L1441.4,1540.0 L1442.9,1540.4 L1444.4,1540.7 L1445.8,1541.0 L1447.3,1541.3 L1448.8,1541.6 L1450.3,1541.9 L1451.7,1542.1 L1453.2,1542.4 L1454.7,1542.6 L1456.2,1542.8 L1457.7,1543.0 L1459.1,1543.2 L1460.6,1543.4 L1462.1,1543.5 L1463.6,1543.7 L1465.1,1543.8 L1466.6,1543.9 L1468.1,1544.0 L1469.5,1544.1 L1471.0,1544.2 L1472.5,1544.3 L1474.0,1544.4 L1475.5,1544.4 L1477.0,1544.5 L1478.5,1544.5 L1480.0,1544.5 L1481.5,1544.5 L1482.9,1544.5 L1484.4,1544.5 L1485.9,1544.5 L1487.4,1544.5 L1488.9,1544.5 L1490.4,1544.5 L1491.9,1544.4 L1493.4,1544.4 L1494.9,1544.3 L1496.4,1544.3 L1497.9,1544.2 L1499.4,1544.2 L1500.9,1544.1 L1502.3,1544.1 L1503.8,1544.0 L1505.3,1543.9 L1506.8,1543.8 L1508.3,1543.8 L1509.8,1543.7 L1511.3,1543.6 L1512.8,1543.6 L1514.3,1543.5 L1515.8,1543.4 L1517.3,1543.3 L1518.8,1543.3 L1520.3,1543.2 L1521.8,1543.1 L1523.3,1543.1 L1524.8,1543.0 L1526.3,1542.9 L1527.8,1542.9 L1529.3,1542.8 L1530.7,1542.7 L1532.2,1542.7 L1533.7,1542.6 L1535.2,1542.6 L1536.7,1542.5 L1538.2,1542.5 L1539.7,1542.4 L1541.2,1542.4 L1542.7,1542.3 L1544.2,1542.3 L1545.7,1542.2 L1547.2,1542.2 L1548.7,1542.1 L1550.2,1542.1 L1551.7,1542.1 L1553.2,1542.0 L1554.7,1542.0 L1556.2,1542.0 L1557.7,1541.9 L1559.2,1541.9 L1560.7,1541.9 L1562.2,1541.8 L1563.7,1541.8 L1565.2,1541.8 L1566.7,1541.7 L1568.2,1541.7 L1569.7,1541.7 L1571.2,1541.7 L1572.7,1541.6 L1574.2,1541.6 L1575.7,1541.6 L1577.2,1541.6 L1578.7,1541.6 L1580.1,1541.6 L1581.6,1541.5 L1583.1,1541.5 L1584.6,1541.5 L1586.1,1541.5 L1587.6,1541.5 L1589.1,1541.5 L1590.6,1541.5 L1592.1,1541.5 L1593.6,1541.5 L1595.1,1541.5 L1596.6,1541.5 L1598.1,1541.5 L1599.6,1541.4 L1601.1,1541.4 L1602.6,1541.4 L1604.1,1541.4 L1605.6,1541.4 L1607.1,1541.4 L1608.6,1541.5 L1610.1,1541.5 L1611.6,1541.5 L1613.1,1541.5 L1614.6,1541.5 L1616.1,1541.5 L1617.6,1541.5 L1619.1,1541.5 L1620.6,1541.5 L1622.1,1541.5 L1623.6,1541.5 L1625.1,1541.5 L1626.6,1541.6 L1628.1,1541.6 L1629.6,1541.6 L1631.1,1541.6 L1632.6,1541.6 L1634.1,1541.6 L1635.6,1541.6 L1637.1,1541.7 L1638.6,1541.7 L1640.1,1541.7 L1641.6,1541.7 L1643.1,1541.7 L1644.6,1541.8 L1646.1,1541.8 L1647.6,1541.8 L1649.1,1541.8 L1650.6,1541.8 L1652.1,1541.9 L1653.6,1541.9 L1655.1,1541.9 L1656.6,1541.9 L1658.1,1542.0 L1659.6,1542.0 L1661.1,1542.0 L1662.6,1542.0 L1664.1,1542.1 L1665.6,1542.1 L1667.1,1542.1 L1668.6,1542.1 L1670.1,1542.2 L1671.6,1542.2 L1673.1,1542.2 L1674.6,1542.3 L1676.1,1542.3 L1677.6,1542.3 L1679.1,1542.3 L1680.6,1542.4 L1682.1,1542.4 L1683.6,1542.4 L1685.1,1542.5 L1686.6,1542.5 L1688.1,1542.5 L1689.6,1542.6 L1691.1,1542.6 L1692.6,1542.6 L1694.1,1542.7 L1695.6,1542.7 L1697.1,1542.7 L1698.6,1542.8 L1700.1,1542.8 L1701.6,1542.8 L1703.1,1542.9 L1704.6,1542.9 L1706.1,1542.9 L1707.6,1542.9 L1709.1,1543.0 L1710.6,1543.0 L1712.1,1543.0 L1713.6,1543.1 L1715.1,1543.1 L1716.6,1543.1 L1718.1,1543.2 L1719.6,1543.2 L1721.1,1543.2 L1722.6,1543.3 L1724.1,1543.3 L1725.6,1543.3 L1727.1,1543.4 L1728.6,1543.4 L1730.1,1543.4 L1731.6,1543.5 L1733.1,1543.5 L1734.6,1543.5 L1736.1,1543.6 L1737.6,1543.6 L1739.1,1543.6 L1740.6,1543.7 L1742.1,1543.7 L1743.6,1543.7 L1745.1,1543.7 L1746.6,1543.8 L1748.1,1543.8 L1749.6,1543.8 L1751.1,1543.9 L1752.6,1543.9 L1754.1,1543.9 L1755.6,1543.9 L1757.1,1544.0 L1758.6,1544.0 L1760.1,1544.0 L1761.6,1544.1 L1763.1,1544.1 L1764.6,1544.1 L1766.1,1544.1 L1767.6,1544.2 L1769.1,1544.2 L1770.6,1544.2 L1772.1,1544.2 L1773.6,1544.3 L1775.1,1544.3 L1776.6,1544.3 L1778.1,1544.3 L1779.6,1544.3 L1781.1,1544.4 L1782.6,1544.4 L1784.1,1544.4 L1785.6,1544.4 L1787.1,1544.5 L1788.6,1544.5 L1790.1,1544.5 L1791.6,1544.5 L1793.1,1544.5 L1794.6,1544.6 L1796.1,1544.6 L1797.6,1544.6 L1799.1,1544.6 L1800.6,1544.6 L1802.1,1544.7 L1803.6,1544.7 L1805.1,1544.7 L1806.6,1544.7 L1808.1,1544.7 L1809.6,1544.7 L1811.1,1544.8 L1812.6,1544.8 L1814.1,1544.8 L1815.6,1544.8 L1817.1,1544.8 L1818.6,1544.8 L1820.1,1544.9 L1821.6,1544.9 L1823.1,1544.9 L1824.6,1544.9 L1826.1,1544.9 L1827.6,1544.9 L1829.1,1545.0 L1830.6,1545.0 L1832.1,1545.0 L1833.6,1545.0 L1835.1,1545.0 L1836.6,1545.0 L1838.1,1545.0 L1839.6,1545.1 L1841.1,1545.1 L1842.6,1545.1 L1844.1,1545.1 L1845.6,1545.1 L1847.1,1545.1 L1848.6,1545.1 L1850.1,1545.1 L1851.6,1545.2 L1853.1,1545.2 L1854.6,1545.2 L1856.1,1545.2 L1857.6,1545.2 L1859.1,1545.2 L1860.6,1545.2 L1862.1,1545.2 L1863.6,1545.2 L1865.1,1545.3 L1866.6,1545.3 L1868.1,1545.3 L1869.6,1545.3 L1871.1,1545.3 L1872.6,1545.3 L1874.1,1545.3 L1875.6,1545.3 L1877.1,1545.3 L1878.6,1545.3 L1880.1,1545.4 L1881.6,1545.4 L1883.1,1545.4 L1884.6,1545.4 L1886.1,1545.4 L1887.6,1545.4 L1889.1,1545.4 L1890.6,1545.4 L1892.1,1545.4 L1893.6,1545.4 L1895.1,1545.4 L1896.6,1545.4 L1898.1,1545.5 L1899.6,1545.5 L1901.1,1545.5 L1902.6,1545.5 L1904.1,1545.5 L1905.6,1545.5 L1907.1,1545.5 L1908.6,1545.5 L1910.1,1545.5 L1911.6,1545.5 L1913.1,1545.5 L1914.6,1545.5 L1916.1,1545.5 L1917.6,1545.6 L1919.1,1545.6 L1920.6,1545.6 L1922.1,1545.6 L1923.6,1545.6 L1925.1,1545.6 L1926.6,1545.6 L1928.1,1545.6 L1929.6,1545.6 L1931.1,1545.6 L1932.6,1545.6 L1934.1,1545.6 L1935.6,1545.6 L1937.1,1545.6 L1938.6,1545.6 L1940.1,1545.7 L1941.6,1545.7 L1943.1,1545.7 L1944.6,1545.7 L1946.1,1545.7 L1947.6,1545.7 L1949.1,1545.7 L1950.6,1545.7 L1952.0,1545.7 L1953.5,1545.7 L1955.0,1545.7 L1956.5,1545.7 L1958.0,1545.7 L1959.5,1545.7 L1961.0,1545.7 L1962.5,1545.7 L1964.0,1545.8 L1965.5,1545.8 L1967.0,1545.8 L1968.5,1545.8 L1970.0,1545.8 L1971.5,1545.8 L1973.0,1545.8 L1974.5,1545.8 L1976.0,1545.8 L1977.5,1545.8 L1979.0,1545.8 L1980.5,1545.8 L1982.0,1545.8 L1983.5,1545.8 L1985.0,1545.8 L1986.5,1545.9 L1988.0,1545.9 L1989.5,1545.9 L1991.0,1545.9 L1992.5,1545.9 L1994.0,1545.9 L1995.5,1545.9 L1997.0,1545.9 L1998.5,1545.9 L2000.0,1545.9 L2001.5,1545.9 L2003.0,1545.9 L2004.5,1545.9 L2006.0,1545.9 L2007.5,1546.0 L2009.0,1546.0 L2010.5,1546.0 L2012.0,1546.0 L2013.5,1546.0 L2015.0,1546.0 L2016.5,1546.0 L2018.0,1546.0 L2019.5,1546.0 L2021.0,1546.0 L2022.5,1546.0 L2024.0,1546.0 L2025.5,1546.1 L2027.0,1546.1 L2028.5,1546.1 L2030.0,1546.1 L2031.5,1546.1 L2033.0,1546.1 L2034.5,1546.1 L2036.0,1546.1 L2037.5,1546.1 L2039.0,1546.1 L2040.5,1546.1 L2042.0,1546.2 L2043.5,1546.2 L2045.0,1546.2 L2046.5,1546.2 L2048.0,1546.2 L2049.5,1546.2 L2051.0,1546.2 L2052.5,1546.2 L2054.0,1546.2 L2055.5,1546.3 L2057.0,1546.3 L2058.5,1546.3 L2060.0,1546.3 L2061.5,1546.3 L2063.0,1546.3 L2064.5,1546.3 L2066.0,1546.3 L2067.5,1546.4 L2069.0,1546.4 L2070.5,1546.4 L2072.0,1546.4 L2073.5,1546.4 L2075.0,1546.4 L2076.5,1546.4 L2078.0,1546.4 L2079.5,1546.5 L2081.0,1546.5 L2082.5,1546.5 L2084.0,1546.5 L2085.5,1546.5 L2087.0,1546.5 L2088.5,1546.6 L2090.0,1546.6 L2091.5,1546.6 L2093.0,1546.6 L2094.5,1546.6 L2096.0,1546.6 L2097.5,1546.6 L2099.0,1546.7 L2100.5,1546.7 L2102.0,1546.7 L2103.5,1546.7 L2105.0,1546.7 L2106.5,1546.8 L2108.0,1546.8 L2109.5,1546.8 L2111.0,1546.8 L2112.5,1546.8 L2114.0,1546.9 L2115.5,1546.9 L2117.0,1546.9 L2118.5,1546.9 L2120.0,1546.9 L2121.5,1547.0 L2123.0,1547.0 L2124.5,1547.0 L2126.0,1547.0 L2127.5,1547.0 L2129.0,1547.1 L2130.5,1547.1 L2132.0,1547.1 L2133.5,1547.1 L2135.0,1547.2 L2136.5,1547.2 L2138.0,1547.2 L2139.5,1547.2 L2141.0,1547.2 L2142.5,1547.3 L2144.0,1547.3 L2145.5,1547.3 L2147.0,1547.3 L2148.5,1547.4 L2150.0,1547.4 L2151.5,1547.4 L2153.0,1547.5 L2154.5,1547.5 L2156.0,1547.5" fill="none" stroke="#cc4826" stroke-width="4.1" stroke-linejoin="round" stroke-linecap="butt"/>
<rect x="1955" y="223.8" width="149.5" height="4.8" fill="#7dca8f"/>
<rect x="1957.5" y="286.8" width="144.5" height="4.6" fill="#3b2c85"/>
<rect x="1958" y="349.4" width="144" height="4.8" fill="#cc4826"/>
<text transform="matrix(1.270,0,0,1,206.5,63.5)" font-size="58.5" text-anchor="middle">10</text>
<text transform="matrix(1.270,0,0,1,211.5,369.3)" font-size="58.5" text-anchor="middle">8</text>
<text transform="matrix(1.270,0,0,1,207.0,667.5)" font-size="58.5" text-anchor="middle">6</text>
<text transform="matrix(1.270,0,0,1,208.5,973.9)" font-size="58.5" text-anchor="middle">4</text>
<text transform="matrix(1.270,0,0,1,208.5,1280.0)" font-size="58.5" text-anchor="middle">2</text>
<text transform="matrix(1.270,0,0,1,208.5,1585.5)" font-size="58.5" text-anchor="middle">0</text>
<text transform="matrix(1.270,0,0,1,283.5,1648.5)" font-size="58.5" text-anchor="middle">200</text>
<text transform="matrix(1.207,0,0,1,685.2,1648.5)" font-size="58.5" text-anchor="middle">300</text>
<text transform="matrix(1.207,0,0,1,1052.9,1648.5)" font-size="58.5" text-anchor="middle">400</text>
<text transform="matrix(1.207,0,0,1,1418.7,1648.5)" font-size="58.5" text-anchor="middle">500</text>
<text transform="matrix(1.207,0,0,1,1786.6,1648.5)" font-size="58.5" text-anchor="middle">600</text>
<text transform="matrix(1.207,0,0,1,2153.4,1648.5)" font-size="58.5" text-anchor="middle">700</text>
<text transform="matrix(1.270,0,0,1,2116.0,241.7)" font-size="58.5" text-anchor="start">1</text>
<text transform="matrix(1.270,0,0,1,2116.5,303.6)" font-size="58.5" text-anchor="start">6</text>
<text transform="matrix(1.270,0,0,1,2123.0,369.2)" font-size="58.5" text-anchor="start">10</text>
<text transform="matrix(1.325,0,0,1,1268.5,1759)" font-size="74" text-anchor="middle">Wavelength (nm)</text>
<text transform="matrix(0,-1,1.330,0,112.5,976)" font-size="74">ε/10<tspan font-size="37" dy="-37.7">4</tspan><tspan dy="37.7">(M</tspan><tspan font-size="37" dy="-37.7">-1</tspan><tspan dy="37.7">cm</tspan><tspan font-size="37" dy="-37.7">-1</tspan><tspan dy="37.7">)</tspan></text>
</svg>
</body></html>
